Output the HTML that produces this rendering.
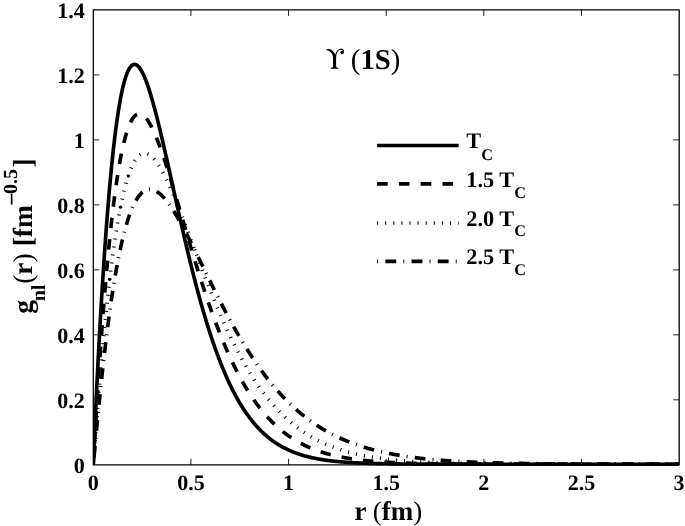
<!DOCTYPE html>
<html><head><meta charset="utf-8"><style>
html,body{margin:0;padding:0;background:#fff;}
svg{display:block;will-change:transform;}
text{font-family:"Liberation Serif",serif;font-weight:bold;fill:#000;text-rendering:geometricPrecision;}
.tk{font-size:22px;}
.lg{font-size:22.3px;}
.n{font-weight:normal;}
</style></head><body>
<svg width="685" height="526" viewBox="0 0 685 526">
<rect width="685" height="526" fill="#fff"/>
<clipPath id="clip"><rect x="93.3" y="9.95" width="585.90" height="456.85"/></clipPath>
<g clip-path="url(#clip)">
<path d="M93.30,464.20 L93.31,463.98 L93.32,463.56 L93.34,463.02 L93.36,462.38 L93.39,461.65 L93.42,460.85 L93.46,459.97 L93.49,459.02 L93.53,458.01 L93.58,456.94 L93.62,455.82 L93.67,454.64 L93.72,453.41 L93.77,452.14 L93.83,450.82 L93.89,449.45 L93.95,448.04 L94.01,446.59 L94.07,445.09 L94.14,443.56 L94.21,441.99 L94.28,440.38 L94.35,438.74 L94.42,437.06 L94.50,435.35 L94.58,433.61 L94.65,431.83 L94.74,430.02 L94.82,428.18 L94.90,426.32 L94.99,424.42 L95.08,422.49 L95.17,420.54 L95.26,418.56 L95.35,416.56 L95.45,414.53 L95.54,412.47 L95.64,410.39 L95.74,408.29 L95.84,406.16 L95.94,404.01 L96.05,401.84 L96.15,399.65 L96.26,397.44 L96.37,395.21 L96.48,392.96 L96.59,390.69 L96.70,388.40 L96.82,386.10 L96.93,383.77 L97.05,381.43 L97.17,379.08 L97.29,376.71 L97.41,374.32 L97.53,371.92 L97.65,369.50 L97.78,367.07 L97.90,364.63 L98.03,362.18 L98.16,359.71 L98.29,357.23 L98.42,354.74 L98.56,352.24 L98.69,349.73 L98.82,347.21 L98.96,344.68 L99.10,342.14 L99.24,339.59 L99.38,337.03 L99.52,334.47 L99.66,331.90 L99.81,329.32 L99.95,326.74 L100.10,324.15 L100.25,321.56 L100.39,318.96 L100.54,316.35 L100.70,313.75 L100.85,311.14 L101.00,308.52 L101.16,305.91 L101.31,303.29 L101.47,300.67 L101.63,298.05 L101.79,295.42 L101.95,292.80 L102.11,290.18 L102.27,287.55 L102.43,284.93 L102.60,282.31 L102.76,279.69 L102.93,277.07 L103.10,274.46 L103.27,271.84 L103.44,269.23 L103.61,266.63 L103.78,264.02 L103.96,261.42 L104.13,258.83 L104.31,256.24 L104.48,253.66 L104.66,251.08 L104.84,248.51 L105.02,245.95 L105.20,243.39 L105.38,240.84 L105.56,238.29 L105.75,235.76 L105.93,233.23 L106.12,230.72 L106.31,228.21 L106.49,225.71 L106.68,223.22 L106.87,220.74 L107.06,218.27 L107.26,215.81 L107.45,213.36 L107.64,210.93 L107.84,208.50 L108.03,206.09 L108.23,203.69 L108.43,201.31 L108.63,198.93 L108.83,196.57 L109.03,194.22 L109.23,191.89 L109.43,189.57 L109.64,187.27 L109.84,184.98 L110.05,182.71 L110.25,180.45 L110.46,178.20 L110.67,175.98 L110.88,173.77 L111.09,171.57 L111.30,169.40 L111.51,167.24 L111.73,165.09 L111.94,162.97 L112.16,160.86 L112.37,158.77 L112.59,156.70 L112.81,154.65 L113.03,152.61 L113.25,150.60 L113.47,148.60 L113.69,146.63 L113.91,144.67 L114.13,142.74 L114.36,140.82 L114.58,138.92 L114.81,137.05 L115.03,135.20 L115.26,133.36 L115.49,131.55 L115.72,129.76 L115.95,127.99 L116.18,126.24 L116.41,124.52 L116.65,122.82 L116.88,121.14 L117.12,119.48 L117.35,117.84 L117.59,116.23 L117.83,114.64 L118.06,113.07 L118.30,111.53 L118.54,110.01 L118.78,108.51 L119.03,107.04 L119.27,105.59 L119.51,104.16 L119.76,102.76 L120.00,101.38 L120.25,100.03 L120.49,98.70 L120.74,97.39 L120.99,96.11 L121.24,94.86 L121.49,93.63 L121.74,92.42 L121.99,91.24 L122.24,90.08 L122.50,88.95 L122.75,87.85 L123.01,86.77 L123.26,85.71 L123.52,84.68 L123.78,83.68 L124.04,82.70 L124.30,81.74 L124.56,80.81 L124.82,79.91 L125.08,79.03 L125.34,78.18 L125.60,77.36 L125.87,76.55 L126.13,75.78 L126.40,75.03 L126.67,74.31 L126.93,73.61 L127.20,72.94 L127.47,72.29 L127.74,71.67 L128.01,71.07 L128.28,70.50 L128.55,69.96 L128.83,69.44 L129.10,68.95 L129.37,68.48 L129.65,68.04 L129.93,67.62 L130.20,67.23 L130.48,66.87 L130.76,66.53 L131.04,66.21 L131.32,65.92 L131.60,65.66 L131.88,65.42 L132.16,65.21 L132.44,65.02 L132.73,64.85 L133.01,64.71 L133.30,64.60 L133.58,64.51 L133.87,64.44 L134.16,64.40 L134.45,64.39 L134.74,64.39 L135.03,64.43 L135.32,64.48 L135.61,64.56 L135.90,64.67 L136.19,64.80 L136.49,64.95 L136.78,65.12 L137.08,65.32 L137.37,65.55 L137.67,65.79 L137.97,66.06 L138.26,66.35 L138.56,66.67 L138.86,67.00 L139.16,67.36 L139.46,67.74 L139.77,68.15 L140.07,68.58 L140.37,69.02 L140.68,69.49 L140.98,69.99 L141.29,70.50 L141.59,71.03 L141.90,71.59 L142.21,72.17 L142.52,72.77 L142.83,73.38 L143.14,74.02 L143.45,74.68 L143.76,75.36 L144.07,76.06 L144.38,76.78 L144.70,77.52 L145.01,78.28 L145.33,79.06 L145.64,79.86 L145.96,80.68 L146.27,81.51 L146.59,82.36 L146.91,83.24 L147.23,84.13 L147.55,85.04 L147.87,85.96 L148.19,86.91 L148.51,87.87 L148.84,88.85 L149.16,89.84 L149.48,90.85 L149.81,91.88 L150.13,92.93 L150.46,93.99 L150.79,95.07 L151.12,96.16 L151.44,97.27 L151.77,98.40 L152.10,99.54 L152.43,100.69 L152.76,101.86 L153.10,103.05 L153.43,104.25 L153.76,105.46 L154.10,106.69 L154.43,107.93 L154.77,109.18 L155.10,110.45 L155.44,111.73 L155.78,113.02 L156.11,114.33 L156.45,115.65 L156.79,116.98 L157.13,118.32 L157.47,119.68 L157.81,121.04 L158.16,122.42 L158.50,123.81 L158.84,125.21 L159.19,126.62 L159.53,128.04 L159.88,129.47 L160.22,130.91 L160.57,132.37 L160.92,133.83 L161.27,135.30 L161.62,136.78 L161.96,138.27 L162.31,139.76 L162.67,141.27 L163.02,142.79 L163.37,144.31 L163.72,145.84 L164.08,147.38 L164.43,148.93 L164.79,150.48 L165.14,152.04 L165.50,153.61 L165.85,155.18 L166.21,156.76 L166.57,158.35 L166.93,159.94 L167.29,161.54 L167.65,163.15 L168.01,164.76 L168.37,166.37 L168.73,168.00 L169.09,169.62 L169.46,171.25 L169.82,172.89 L170.19,174.53 L170.55,176.17 L170.92,177.82 L171.29,179.47 L171.65,181.12 L172.02,182.78 L172.39,184.44 L172.76,186.11 L173.13,187.77 L173.50,189.44 L173.87,191.11 L174.24,192.79 L174.61,194.46 L174.99,196.14 L175.36,197.82 L175.74,199.50 L176.11,201.18 L176.49,202.87 L176.86,204.55 L177.24,206.24 L177.62,207.92 L178.00,209.61 L178.37,211.29 L178.75,212.98 L179.13,214.67 L179.51,216.35 L179.90,218.04 L180.28,219.72 L180.66,221.41 L181.04,223.09 L181.43,224.78 L181.81,226.46 L182.20,228.14 L182.58,229.82 L182.97,231.49 L183.36,233.17 L183.74,234.84 L184.13,236.51 L184.52,238.18 L184.91,239.85 L185.30,241.51 L185.69,243.17 L186.08,244.83 L186.48,246.49 L186.87,248.14 L187.26,249.79 L187.65,251.44 L188.05,253.08 L188.44,254.72 L188.84,256.36 L189.24,257.99 L189.63,259.62 L190.03,261.24 L190.43,262.86 L190.83,264.48 L191.23,266.09 L191.63,267.69 L192.03,269.30 L192.43,270.89 L192.83,272.49 L193.23,274.07 L193.64,275.66 L194.04,277.23 L194.44,278.81 L194.85,280.37 L195.25,281.93 L195.66,283.49 L196.07,285.04 L196.47,286.58 L196.88,288.12 L197.29,289.66 L197.70,291.18 L198.11,292.70 L198.52,294.22 L198.93,295.73 L199.34,297.23 L199.76,298.73 L200.17,300.22 L200.58,301.70 L200.99,303.18 L201.41,304.64 L201.82,306.11 L202.24,307.56 L202.66,309.01 L203.07,310.46 L203.49,311.89 L203.91,313.32 L204.33,314.74 L204.75,316.16 L205.17,317.56 L205.59,318.96 L206.01,320.35 L206.43,321.74 L206.85,323.12 L207.28,324.49 L207.70,325.85 L208.12,327.20 L208.55,328.55 L208.97,329.89 L209.40,331.22 L209.82,332.55 L210.25,333.87 L210.68,335.17 L211.11,336.47 L211.54,337.77 L211.96,339.05 L212.39,340.33 L212.83,341.60 L213.26,342.86 L213.69,344.11 L214.12,345.36 L214.55,346.60 L214.99,347.83 L215.42,349.05 L215.85,350.26 L216.29,351.47 L216.73,352.66 L217.16,353.85 L217.60,355.03 L218.04,356.20 L218.47,357.37 L218.91,358.52 L219.35,359.67 L219.79,360.81 L220.23,361.94 L220.67,363.07 L221.11,364.18 L221.56,365.29 L222.00,366.39 L222.44,367.48 L222.88,368.56 L223.33,369.63 L223.77,370.70 L224.22,371.75 L224.66,372.80 L225.11,373.84 L225.56,374.88 L226.01,375.90 L226.45,376.92 L226.90,377.93 L227.35,378.92 L227.80,379.92 L228.25,380.90 L228.70,381.88 L229.16,382.84 L229.61,383.80 L230.06,384.75 L230.51,385.70 L230.97,386.63 L231.42,387.56 L231.88,388.48 L232.33,389.39 L232.79,390.29 L233.25,391.19 L233.70,392.07 L234.16,392.95 L234.62,393.82 L235.08,394.69 L235.54,395.54 L236.00,396.39 L236.46,397.23 L236.92,398.06 L237.38,398.89 L237.84,399.70 L238.31,400.51 L238.77,401.32 L239.23,402.11 L239.70,402.90 L240.16,403.67 L240.63,404.45 L241.09,405.21 L241.56,405.97 L242.03,406.72 L242.50,407.46 L242.96,408.19 L243.43,408.92 L243.90,409.64 L244.37,410.35 L244.84,411.06 L245.31,411.76 L245.79,412.45 L246.26,413.13 L246.73,413.81 L247.20,414.48 L247.68,415.14 L248.15,415.80 L248.63,416.45 L249.10,417.09 L249.58,417.73 L250.06,418.36 L250.53,418.98 L251.01,419.59 L251.49,420.20 L251.97,420.80 L252.45,421.40 L252.93,421.99 L253.41,422.57 L253.89,423.15 L254.37,423.72 L254.85,424.28 L255.33,424.84 L255.82,425.39 L256.30,425.94 L256.78,426.48 L257.27,427.01 L257.75,427.54 L258.24,428.06 L258.73,428.57 L259.21,429.08 L259.70,429.58 L260.19,430.08 L260.68,430.57 L261.17,431.06 L261.66,431.54 L262.15,432.01 L262.64,432.48 L263.13,432.94 L263.62,433.40 L264.11,433.85 L264.60,434.30 L265.10,434.74 L265.59,435.17 L266.08,435.60 L266.58,436.03 L267.07,436.45 L267.57,436.86 L268.07,437.27 L268.56,437.68 L269.06,438.08 L269.56,438.47 L270.06,438.86 L270.56,439.24 L271.06,439.62 L271.56,440.00 L272.06,440.37 L272.56,440.73 L273.06,441.09 L273.56,441.45 L274.07,441.80 L274.57,442.15 L275.07,442.49 L275.58,442.83 L276.08,443.16 L276.59,443.49 L277.09,443.82 L277.60,444.14 L278.11,444.45 L278.61,444.76 L279.12,445.07 L279.63,445.37 L280.14,445.67 L280.65,445.97 L281.16,446.26 L281.67,446.55 L282.18,446.83 L282.69,447.11 L283.20,447.39 L283.72,447.66 L284.23,447.93 L284.74,448.19 L285.26,448.45 L285.77,448.71 L286.29,448.96 L286.80,449.21 L287.32,449.46 L287.84,449.70 L288.35,449.94 L288.87,450.18 L289.39,450.41 L289.91,450.64 L290.43,450.87 L290.95,451.09 L291.47,451.31 L291.99,451.53 L292.51,451.74 L293.03,451.95 L293.55,452.16 L294.08,452.36 L294.60,452.56 L295.13,452.76 L295.65,452.95 L296.17,453.15 L296.70,453.34 L297.23,453.52 L297.75,453.71 L298.28,453.89 L298.81,454.07 L299.34,454.24 L299.86,454.41 L300.39,454.58 L300.92,454.75 L301.45,454.92 L301.98,455.08 L302.51,455.24 L303.05,455.40 L303.58,455.55 L304.11,455.70 L304.64,455.86 L305.18,456.00 L305.71,456.15 L306.25,456.29 L306.78,456.43 L307.32,456.57 L307.85,456.71 L308.39,456.84 L308.93,456.98 L309.46,457.11 L310.00,457.24 L310.54,457.36 L311.08,457.49 L311.62,457.61 L312.16,457.73 L312.70,457.85 L313.24,457.96 L313.78,458.08 L314.33,458.19 L314.87,458.30 L315.41,458.41 L315.95,458.52 L316.50,458.62 L317.04,458.73 L317.59,458.83 L318.13,458.93 L318.68,459.03 L319.23,459.12 L319.77,459.22 L320.32,459.31 L320.87,459.40 L321.42,459.49 L321.97,459.58 L322.52,459.67 L323.07,459.76 L323.62,459.84 L324.17,459.92 L324.72,460.01 L325.27,460.09 L325.83,460.17 L326.38,460.24 L326.93,460.32 L327.49,460.39 L328.04,460.47 L328.60,460.54 L329.15,460.61 L329.71,460.68 L330.26,460.75 L330.82,460.82 L331.38,460.88 L331.94,460.95 L332.49,461.01 L333.05,461.07 L333.61,461.14 L334.17,461.20 L334.73,461.26 L335.29,461.31 L335.86,461.37 L336.42,461.43 L336.98,461.48 L337.54,461.54 L338.11,461.59 L338.67,461.64 L339.23,461.69 L339.80,461.74 L340.36,461.79 L340.93,461.84 L341.50,461.89 L342.06,461.94 L342.63,461.98 L343.20,462.03 L343.77,462.07 L344.33,462.12 L344.90,462.16 L345.47,462.20 L346.04,462.24 L346.61,462.28 L347.19,462.32 L347.76,462.36 L348.33,462.40 L348.90,462.44 L349.47,462.47 L350.05,462.51 L350.62,462.54 L351.20,462.58 L351.77,462.61 L352.35,462.65 L352.92,462.68 L353.50,462.71 L354.08,462.74 L354.65,462.77 L355.23,462.80 L355.81,462.83 L356.39,462.86 L356.97,462.89 L357.55,462.92 L358.13,462.94 L358.71,462.97 L359.29,463.00 L359.87,463.02 L360.45,463.05 L361.04,463.07 L361.62,463.10 L362.20,463.12 L362.79,463.14 L363.37,463.17 L363.96,463.19 L364.54,463.21 L365.13,463.23 L365.71,463.25 L366.30,463.28 L366.89,463.30 L367.48,463.32 L368.06,463.33 L368.65,463.35 L369.24,463.37 L369.83,463.39 L370.42,463.41 L371.01,463.43 L371.60,463.44 L372.19,463.46 L372.79,463.48 L373.38,463.49 L373.97,463.51 L374.57,463.52 L375.16,463.54 L375.75,463.55 L376.35,463.57 L376.94,463.58 L377.54,463.60 L378.14,463.61 L378.73,463.62 L379.33,463.64 L379.93,463.65 L380.53,463.66 L381.12,463.67 L381.72,463.69 L382.32,463.70 L382.92,463.71 L383.52,463.72 L384.12,463.73 L384.73,463.74 L385.33,463.75 L385.93,463.76 L386.53,463.77 L387.14,463.78 L387.74,463.79 L388.34,463.80 L388.95,463.81 L389.55,463.82 L390.16,463.83 L390.77,463.84 L391.37,463.85 L391.98,463.86 L392.59,463.86 L393.20,463.87 L393.80,463.88 L394.41,463.89 L395.02,463.89 L395.63,463.90 L396.24,463.91 L396.85,463.92 L397.46,463.92 L398.08,463.93 L398.69,463.93 L399.30,463.94 L399.91,463.95 L400.53,463.95 L401.14,463.96 L401.75,463.97 L402.37,463.97 L402.98,463.98 L403.60,463.98 L404.22,463.99 L404.83,463.99 L405.45,464.00 L406.07,464.00 L406.69,464.01 L407.30,464.01 L407.92,464.02 L408.54,464.02 L409.16,464.03 L409.78,464.03 L410.40,464.03 L411.02,464.04 L411.65,464.04 L412.27,464.05 L412.89,464.05 L413.51,464.05 L414.14,464.06 L414.76,464.06 L415.39,464.06 L416.01,464.07 L416.64,464.07 L417.26,464.07 L417.89,464.08 L418.52,464.08 L419.14,464.08 L419.77,464.09 L420.40,464.09 L421.03,464.09 L421.66,464.09 L422.29,464.10 L422.91,464.10 L423.55,464.10 L424.18,464.10 L424.81,464.11 L425.44,464.11 L426.07,464.11 L426.70,464.11 L427.34,464.12 L427.97,464.12 L428.60,464.12 L429.24,464.12 L429.87,464.12 L430.51,464.13 L431.14,464.13 L431.78,464.13 L432.42,464.13 L433.05,464.13 L433.69,464.14 L434.33,464.14 L434.97,464.14 L435.61,464.14 L436.25,464.14 L436.89,464.14 L437.53,464.14 L438.17,464.15 L438.81,464.15 L439.45,464.15 L440.09,464.15 L440.73,464.15 L441.38,464.15 L442.02,464.15 L442.66,464.16 L443.31,464.16 L443.95,464.16 L444.60,464.16 L445.24,464.16 L445.89,464.16 L446.54,464.16 L447.18,464.16 L447.83,464.16 L448.48,464.17 L449.13,464.17 L449.77,464.17 L450.42,464.17 L451.07,464.17 L451.72,464.17 L452.37,464.17 L453.02,464.17 L453.68,464.17 L454.33,464.17 L454.98,464.17 L455.63,464.17 L456.29,464.17 L456.94,464.18 L457.59,464.18 L458.25,464.18 L458.90,464.18 L459.56,464.18 L460.21,464.18 L460.87,464.18 L461.53,464.18 L462.18,464.18 L462.84,464.18 L463.50,464.18 L464.16,464.18 L464.82,464.18 L465.47,464.18 L466.13,464.18 L466.79,464.18 L467.45,464.18 L468.12,464.18 L468.78,464.19 L469.44,464.19 L470.10,464.19 L470.76,464.19 L471.43,464.19 L472.09,464.19 L472.75,464.19 L473.42,464.19 L474.08,464.19 L474.75,464.19 L475.42,464.19 L476.08,464.19 L476.75,464.19 L477.42,464.19 L478.08,464.19 L478.75,464.19 L479.42,464.19 L480.09,464.19 L480.76,464.19 L481.43,464.19 L482.10,464.19 L482.77,464.19 L483.44,464.19 L484.11,464.19 L484.78,464.19 L485.45,464.19 L486.13,464.19 L486.80,464.19 L487.47,464.19 L488.15,464.19 L488.82,464.19 L489.50,464.19 L490.17,464.19 L490.85,464.19 L491.52,464.19 L492.20,464.19 L492.88,464.19 L493.56,464.19 L494.23,464.20 L494.91,464.20 L495.59,464.20 L496.27,464.20 L496.95,464.20 L497.63,464.20 L498.31,464.20 L498.99,464.20 L499.67,464.20 L500.35,464.20 L501.04,464.20 L501.72,464.20 L502.40,464.20 L503.08,464.20 L503.77,464.20 L504.45,464.20 L505.14,464.20 L505.82,464.20 L506.51,464.20 L507.19,464.20 L507.88,464.20 L508.57,464.20 L509.26,464.20 L509.94,464.20 L510.63,464.20 L511.32,464.20 L512.01,464.20 L512.70,464.20 L513.39,464.20 L514.08,464.20 L514.77,464.20 L515.46,464.20 L516.15,464.20 L516.84,464.20 L517.54,464.20 L518.23,464.20 L518.92,464.20 L519.62,464.20 L520.31,464.20 L521.00,464.20 L521.70,464.20 L522.40,464.20 L523.09,464.20 L523.79,464.20 L524.48,464.20 L525.18,464.20 L525.88,464.20 L526.58,464.20 L527.27,464.20 L527.97,464.20 L528.67,464.20 L529.37,464.20 L530.07,464.20 L530.77,464.20 L531.47,464.20 L532.17,464.20 L532.88,464.20 L533.58,464.20 L534.28,464.20 L534.98,464.20 L535.69,464.20 L536.39,464.20 L537.10,464.20 L537.80,464.20 L538.51,464.20 L539.21,464.20 L539.92,464.20 L540.62,464.20 L541.33,464.20 L542.04,464.20 L542.74,464.20 L543.45,464.20 L544.16,464.20 L544.87,464.20 L545.58,464.20 L546.29,464.20 L547.00,464.20 L547.71,464.20 L548.42,464.20 L549.13,464.20 L549.84,464.20 L550.56,464.20 L551.27,464.20 L551.98,464.20 L552.69,464.20 L553.41,464.20 L554.12,464.20 L554.84,464.20 L555.55,464.20 L556.27,464.20 L556.98,464.20 L557.70,464.20 L558.42,464.20 L559.13,464.20 L559.85,464.20 L560.57,464.20 L561.29,464.20 L562.01,464.20 L562.73,464.20 L563.45,464.20 L564.17,464.20 L564.89,464.20 L565.61,464.20 L566.33,464.20 L567.05,464.20 L567.77,464.20 L568.49,464.20 L569.22,464.20 L569.94,464.20 L570.66,464.20 L571.39,464.20 L572.11,464.20 L572.84,464.20 L573.56,464.20 L574.29,464.20 L575.02,464.20 L575.74,464.20 L576.47,464.20 L577.20,464.20 L577.92,464.20 L578.65,464.20 L579.38,464.20 L580.11,464.20 L580.84,464.20 L581.57,464.20 L582.30,464.20 L583.03,464.20 L583.76,464.20 L584.49,464.20 L585.23,464.20 L585.96,464.20 L586.69,464.20 L587.42,464.20 L588.16,464.20 L588.89,464.20 L589.63,464.20 L590.36,464.20 L591.10,464.20 L591.83,464.20 L592.57,464.20 L593.30,464.20 L594.04,464.20 L594.78,464.20 L595.52,464.20 L596.25,464.20 L596.99,464.20 L597.73,464.20 L598.47,464.20 L599.21,464.20 L599.95,464.20 L600.69,464.20 L601.43,464.20 L602.17,464.20 L602.92,464.20 L603.66,464.20 L604.40,464.20 L605.14,464.20 L605.89,464.20 L606.63,464.20 L607.37,464.20 L608.12,464.20 L608.86,464.20 L609.61,464.20 L610.35,464.20 L611.10,464.20 L611.85,464.20 L612.59,464.20 L613.34,464.20 L614.09,464.20 L614.84,464.20 L615.59,464.20 L616.34,464.20 L617.08,464.20 L617.83,464.20 L618.58,464.20 L619.34,464.20 L620.09,464.20 L620.84,464.20 L621.59,464.20 L622.34,464.20 L623.09,464.20 L623.85,464.20 L624.60,464.20 L625.35,464.20 L626.11,464.20 L626.86,464.20 L627.62,464.20 L628.37,464.20 L629.13,464.20 L629.89,464.20 L630.64,464.20 L631.40,464.20 L632.16,464.20 L632.92,464.20 L633.67,464.20 L634.43,464.20 L635.19,464.20 L635.95,464.20 L636.71,464.20 L637.47,464.20 L638.23,464.20 L638.99,464.20 L639.75,464.20 L640.52,464.20 L641.28,464.20 L642.04,464.20 L642.80,464.20 L643.57,464.20 L644.33,464.20 L645.09,464.20 L645.86,464.20 L646.62,464.20 L647.39,464.20 L648.16,464.20 L648.92,464.20 L649.69,464.20 L650.45,464.20 L651.22,464.20 L651.99,464.20 L652.76,464.20 L653.53,464.20 L654.30,464.20 L655.06,464.20 L655.83,464.20 L656.60,464.20 L657.38,464.20 L658.15,464.20 L658.92,464.20 L659.69,464.20 L660.46,464.20 L661.23,464.20 L662.01,464.20 L662.78,464.20 L663.55,464.20 L664.33,464.20 L665.10,464.20 L665.88,464.20 L666.65,464.20 L667.43,464.20 L668.20,464.20 L668.98,464.20 L669.76,464.20 L670.53,464.20 L671.31,464.20 L672.09,464.20 L672.87,464.20 L673.65,464.20 L674.43,464.20 L675.21,464.20 L675.99,464.20 L676.77,464.20 L677.55,464.20 L678.33,464.20 L679.11,464.20" fill="none" stroke="#000" stroke-width="3.65" stroke-linejoin="round" />
<path d="M93.30,464.20 L93.31,464.08 L93.32,463.82 L93.34,463.48 L93.36,463.06 L93.39,462.58 L93.42,462.04 L93.46,461.43 L93.49,460.78 L93.53,460.08 L93.58,459.32 L93.62,458.53 L93.67,457.69 L93.72,456.80 L93.77,455.88 L93.83,454.92 L93.89,453.92 L93.95,452.88 L94.01,451.81 L94.07,450.70 L94.14,449.56 L94.21,448.39 L94.28,447.19 L94.35,445.95 L94.42,444.68 L94.50,443.39 L94.58,442.07 L94.65,440.71 L94.74,439.33 L94.82,437.93 L94.90,436.49 L94.99,435.03 L95.08,433.55 L95.17,432.04 L95.26,430.51 L95.35,428.95 L95.45,427.37 L95.54,425.77 L95.64,424.15 L95.74,422.51 L95.84,420.84 L95.94,419.15 L96.05,417.45 L96.15,415.72 L96.26,413.98 L96.37,412.22 L96.48,410.44 L96.59,408.64 L96.70,406.82 L96.82,404.99 L96.93,403.14 L97.05,401.28 L97.17,399.40 L97.29,397.50 L97.41,395.59 L97.53,393.67 L97.65,391.73 L97.78,389.78 L97.90,387.81 L98.03,385.84 L98.16,383.85 L98.29,381.85 L98.42,379.84 L98.56,377.81 L98.69,375.78 L98.82,373.74 L98.96,371.68 L99.10,369.62 L99.24,367.55 L99.38,365.46 L99.52,363.37 L99.66,361.28 L99.81,359.17 L99.95,357.06 L100.10,354.94 L100.25,352.81 L100.39,350.68 L100.54,348.54 L100.70,346.40 L100.85,344.25 L101.00,342.10 L101.16,339.94 L101.31,337.78 L101.47,335.61 L101.63,333.45 L101.79,331.27 L101.95,329.10 L102.11,326.92 L102.27,324.74 L102.43,322.56 L102.60,320.38 L102.76,318.20 L102.93,316.02 L103.10,313.83 L103.27,311.65 L103.44,309.47 L103.61,307.28 L103.78,305.10 L103.96,302.92 L104.13,300.74 L104.31,298.56 L104.48,296.39 L104.66,294.22 L104.84,292.05 L105.02,289.88 L105.20,287.72 L105.38,285.56 L105.56,283.40 L105.75,281.25 L105.93,279.10 L106.12,276.96 L106.31,274.82 L106.49,272.69 L106.68,270.57 L106.87,268.45 L107.06,266.33 L107.26,264.23 L107.45,262.13 L107.64,260.03 L107.84,257.95 L108.03,255.87 L108.23,253.80 L108.43,251.74 L108.63,249.68 L108.83,247.64 L109.03,245.60 L109.23,243.58 L109.43,241.56 L109.64,239.55 L109.84,237.55 L110.05,235.56 L110.25,233.59 L110.46,231.62 L110.67,229.66 L110.88,227.72 L111.09,225.78 L111.30,223.86 L111.51,221.95 L111.73,220.05 L111.94,218.16 L112.16,216.29 L112.37,214.43 L112.59,212.58 L112.81,210.74 L113.03,208.92 L113.25,207.11 L113.47,205.31 L113.69,203.53 L113.91,201.76 L114.13,200.00 L114.36,198.26 L114.58,196.54 L114.81,194.83 L115.03,193.13 L115.26,191.45 L115.49,189.78 L115.72,188.13 L115.95,186.49 L116.18,184.87 L116.41,183.27 L116.65,181.68 L116.88,180.11 L117.12,178.55 L117.35,177.01 L117.59,175.49 L117.83,173.98 L118.06,172.49 L118.30,171.02 L118.54,169.56 L118.78,168.12 L119.03,166.70 L119.27,165.30 L119.51,163.91 L119.76,162.54 L120.00,161.19 L120.25,159.86 L120.49,158.54 L120.74,157.24 L120.99,155.96 L121.24,154.70 L121.49,153.46 L121.74,152.23 L121.99,151.03 L122.24,149.84 L122.50,148.67 L122.75,147.52 L123.01,146.39 L123.26,145.27 L123.52,144.18 L123.78,143.11 L124.04,142.05 L124.30,141.01 L124.56,140.00 L124.82,139.00 L125.08,138.02 L125.34,137.06 L125.60,136.12 L125.87,135.20 L126.13,134.29 L126.40,133.41 L126.67,132.55 L126.93,131.71 L127.20,130.88 L127.47,130.08 L127.74,129.29 L128.01,128.53 L128.28,127.78 L128.55,127.06 L128.83,126.35 L129.10,125.67 L129.37,125.00 L129.65,124.35 L129.93,123.73 L130.20,123.12 L130.48,122.53 L130.76,121.96 L131.04,121.41 L131.32,120.88 L131.60,120.38 L131.88,119.89 L132.16,119.41 L132.44,118.96 L132.73,118.53 L133.01,118.12 L133.30,117.73 L133.58,117.36 L133.87,117.00 L134.16,116.67 L134.45,116.35 L134.74,116.06 L135.03,115.78 L135.32,115.52 L135.61,115.29 L135.90,115.07 L136.19,114.87 L136.49,114.69 L136.78,114.52 L137.08,114.38 L137.37,114.26 L137.67,114.15 L137.97,114.06 L138.26,113.99 L138.56,113.94 L138.86,113.91 L139.16,113.90 L139.46,113.90 L139.77,113.93 L140.07,113.97 L140.37,114.03 L140.68,114.11 L140.98,114.20 L141.29,114.31 L141.59,114.44 L141.90,114.59 L142.21,114.76 L142.52,114.94 L142.83,115.14 L143.14,115.36 L143.45,115.59 L143.76,115.85 L144.07,116.11 L144.38,116.40 L144.70,116.70 L145.01,117.02 L145.33,117.36 L145.64,117.71 L145.96,118.08 L146.27,118.46 L146.59,118.86 L146.91,119.28 L147.23,119.71 L147.55,120.16 L147.87,120.62 L148.19,121.10 L148.51,121.59 L148.84,122.10 L149.16,122.62 L149.48,123.16 L149.81,123.72 L150.13,124.29 L150.46,124.87 L150.79,125.47 L151.12,126.08 L151.44,126.70 L151.77,127.34 L152.10,128.00 L152.43,128.67 L152.76,129.35 L153.10,130.04 L153.43,130.75 L153.76,131.47 L154.10,132.21 L154.43,132.95 L154.77,133.72 L155.10,134.49 L155.44,135.27 L155.78,136.07 L156.11,136.88 L156.45,137.71 L156.79,138.54 L157.13,139.39 L157.47,140.24 L157.81,141.11 L158.16,141.99 L158.50,142.89 L158.84,143.79 L159.19,144.70 L159.53,145.63 L159.88,146.56 L160.22,147.51 L160.57,148.47 L160.92,149.43 L161.27,150.41 L161.62,151.40 L161.96,152.40 L162.31,153.40 L162.67,154.42 L163.02,155.44 L163.37,156.48 L163.72,157.52 L164.08,158.57 L164.43,159.64 L164.79,160.71 L165.14,161.78 L165.50,162.87 L165.85,163.97 L166.21,165.07 L166.57,166.18 L166.93,167.30 L167.29,168.42 L167.65,169.56 L168.01,170.70 L168.37,171.85 L168.73,173.00 L169.09,174.16 L169.46,175.33 L169.82,176.51 L170.19,177.69 L170.55,178.88 L170.92,180.07 L171.29,181.27 L171.65,182.48 L172.02,183.69 L172.39,184.91 L172.76,186.13 L173.13,187.36 L173.50,188.59 L173.87,189.83 L174.24,191.07 L174.61,192.32 L174.99,193.57 L175.36,194.83 L175.74,196.09 L176.11,197.36 L176.49,198.63 L176.86,199.90 L177.24,201.18 L177.62,202.46 L178.00,203.74 L178.37,205.03 L178.75,206.32 L179.13,207.62 L179.51,208.91 L179.90,210.21 L180.28,211.52 L180.66,212.82 L181.04,214.13 L181.43,215.44 L181.81,216.75 L182.20,218.07 L182.58,219.38 L182.97,220.70 L183.36,222.02 L183.74,223.34 L184.13,224.67 L184.52,225.99 L184.91,227.32 L185.30,228.64 L185.69,229.97 L186.08,231.30 L186.48,232.63 L186.87,233.96 L187.26,235.29 L187.65,236.63 L188.05,237.96 L188.44,239.29 L188.84,240.62 L189.24,241.95 L189.63,243.29 L190.03,244.62 L190.43,245.95 L190.83,247.28 L191.23,248.61 L191.63,249.94 L192.03,251.27 L192.43,252.60 L192.83,253.93 L193.23,255.25 L193.64,256.58 L194.04,257.90 L194.44,259.23 L194.85,260.55 L195.25,261.87 L195.66,263.19 L196.07,264.50 L196.47,265.82 L196.88,267.13 L197.29,268.44 L197.70,269.75 L198.11,271.06 L198.52,272.37 L198.93,273.67 L199.34,274.97 L199.76,276.27 L200.17,277.56 L200.58,278.85 L200.99,280.14 L201.41,281.43 L201.82,282.72 L202.24,284.00 L202.66,285.28 L203.07,286.55 L203.49,287.82 L203.91,289.09 L204.33,290.36 L204.75,291.62 L205.17,292.88 L205.59,294.14 L206.01,295.39 L206.43,296.64 L206.85,297.88 L207.28,299.12 L207.70,300.36 L208.12,301.59 L208.55,302.82 L208.97,304.05 L209.40,305.27 L209.82,306.49 L210.25,307.70 L210.68,308.91 L211.11,310.11 L211.54,311.32 L211.96,312.51 L212.39,313.70 L212.83,314.89 L213.26,316.07 L213.69,317.25 L214.12,318.42 L214.55,319.59 L214.99,320.76 L215.42,321.92 L215.85,323.07 L216.29,324.22 L216.73,325.37 L217.16,326.51 L217.60,327.64 L218.04,328.77 L218.47,329.90 L218.91,331.02 L219.35,332.13 L219.79,333.24 L220.23,334.35 L220.67,335.45 L221.11,336.54 L221.56,337.63 L222.00,338.72 L222.44,339.79 L222.88,340.87 L223.33,341.94 L223.77,343.00 L224.22,344.06 L224.66,345.11 L225.11,346.15 L225.56,347.19 L226.01,348.23 L226.45,349.26 L226.90,350.28 L227.35,351.30 L227.80,352.32 L228.25,353.32 L228.70,354.33 L229.16,355.32 L229.61,356.31 L230.06,357.30 L230.51,358.28 L230.97,359.25 L231.42,360.22 L231.88,361.18 L232.33,362.14 L232.79,363.09 L233.25,364.03 L233.70,364.97 L234.16,365.91 L234.62,366.84 L235.08,367.76 L235.54,368.67 L236.00,369.58 L236.46,370.49 L236.92,371.39 L237.38,372.28 L237.84,373.17 L238.31,374.05 L238.77,374.93 L239.23,375.80 L239.70,376.66 L240.16,377.52 L240.63,378.37 L241.09,379.22 L241.56,380.06 L242.03,380.90 L242.50,381.73 L242.96,382.55 L243.43,383.37 L243.90,384.18 L244.37,384.99 L244.84,385.79 L245.31,386.59 L245.79,387.38 L246.26,388.16 L246.73,388.94 L247.20,389.71 L247.68,390.48 L248.15,391.24 L248.63,391.99 L249.10,392.74 L249.58,393.49 L250.06,394.23 L250.53,394.96 L251.01,395.69 L251.49,396.41 L251.97,397.12 L252.45,397.84 L252.93,398.54 L253.41,399.24 L253.89,399.93 L254.37,400.62 L254.85,401.31 L255.33,401.98 L255.82,402.66 L256.30,403.32 L256.78,403.98 L257.27,404.64 L257.75,405.29 L258.24,405.93 L258.73,406.57 L259.21,407.21 L259.70,407.84 L260.19,408.46 L260.68,409.08 L261.17,409.69 L261.66,410.30 L262.15,410.91 L262.64,411.50 L263.13,412.10 L263.62,412.68 L264.11,413.27 L264.60,413.84 L265.10,414.41 L265.59,414.98 L266.08,415.54 L266.58,416.10 L267.07,416.65 L267.57,417.20 L268.07,417.74 L268.56,418.28 L269.06,418.81 L269.56,419.34 L270.06,419.86 L270.56,420.38 L271.06,420.89 L271.56,421.40 L272.06,421.91 L272.56,422.41 L273.06,422.90 L273.56,423.39 L274.07,423.87 L274.57,424.36 L275.07,424.83 L275.58,425.30 L276.08,425.77 L276.59,426.23 L277.09,426.69 L277.60,427.14 L278.11,427.59 L278.61,428.04 L279.12,428.48 L279.63,428.91 L280.14,429.34 L280.65,429.77 L281.16,430.19 L281.67,430.61 L282.18,431.03 L282.69,431.44 L283.20,431.85 L283.72,432.25 L284.23,432.65 L284.74,433.04 L285.26,433.43 L285.77,433.82 L286.29,434.20 L286.80,434.58 L287.32,434.95 L287.84,435.32 L288.35,435.69 L288.87,436.05 L289.39,436.41 L289.91,436.76 L290.43,437.11 L290.95,437.46 L291.47,437.81 L291.99,438.15 L292.51,438.48 L293.03,438.82 L293.55,439.14 L294.08,439.47 L294.60,439.79 L295.13,440.11 L295.65,440.43 L296.17,440.74 L296.70,441.05 L297.23,441.35 L297.75,441.65 L298.28,441.95 L298.81,442.25 L299.34,442.54 L299.86,442.83 L300.39,443.11 L300.92,443.39 L301.45,443.67 L301.98,443.95 L302.51,444.22 L303.05,444.49 L303.58,444.75 L304.11,445.02 L304.64,445.28 L305.18,445.54 L305.71,445.79 L306.25,446.04 L306.78,446.29 L307.32,446.53 L307.85,446.78 L308.39,447.02 L308.93,447.25 L309.46,447.49 L310.00,447.72 L310.54,447.95 L311.08,448.17 L311.62,448.40 L312.16,448.62 L312.70,448.83 L313.24,449.05 L313.78,449.26 L314.33,449.47 L314.87,449.68 L315.41,449.88 L315.95,450.09 L316.50,450.29 L317.04,450.48 L317.59,450.68 L318.13,450.87 L318.68,451.06 L319.23,451.25 L319.77,451.44 L320.32,451.62 L320.87,451.80 L321.42,451.98 L321.97,452.16 L322.52,452.33 L323.07,452.50 L323.62,452.67 L324.17,452.84 L324.72,453.01 L325.27,453.17 L325.83,453.33 L326.38,453.49 L326.93,453.65 L327.49,453.80 L328.04,453.96 L328.60,454.11 L329.15,454.26 L329.71,454.40 L330.26,454.55 L330.82,454.69 L331.38,454.84 L331.94,454.98 L332.49,455.11 L333.05,455.25 L333.61,455.38 L334.17,455.52 L334.73,455.65 L335.29,455.78 L335.86,455.90 L336.42,456.03 L336.98,456.15 L337.54,456.28 L338.11,456.40 L338.67,456.52 L339.23,456.63 L339.80,456.75 L340.36,456.86 L340.93,456.98 L341.50,457.09 L342.06,457.20 L342.63,457.31 L343.20,457.41 L343.77,457.52 L344.33,457.62 L344.90,457.72 L345.47,457.82 L346.04,457.92 L346.61,458.02 L347.19,458.12 L347.76,458.21 L348.33,458.31 L348.90,458.40 L349.47,458.49 L350.05,458.58 L350.62,458.67 L351.20,458.76 L351.77,458.85 L352.35,458.93 L352.92,459.02 L353.50,459.10 L354.08,459.18 L354.65,459.26 L355.23,459.34 L355.81,459.42 L356.39,459.49 L356.97,459.57 L357.55,459.65 L358.13,459.72 L358.71,459.79 L359.29,459.86 L359.87,459.93 L360.45,460.00 L361.04,460.07 L361.62,460.14 L362.20,460.21 L362.79,460.27 L363.37,460.34 L363.96,460.40 L364.54,460.46 L365.13,460.52 L365.71,460.58 L366.30,460.64 L366.89,460.70 L367.48,460.76 L368.06,460.82 L368.65,460.87 L369.24,460.93 L369.83,460.98 L370.42,461.04 L371.01,461.09 L371.60,461.14 L372.19,461.19 L372.79,461.25 L373.38,461.30 L373.97,461.34 L374.57,461.39 L375.16,461.44 L375.75,461.49 L376.35,461.53 L376.94,461.58 L377.54,461.62 L378.14,461.67 L378.73,461.71 L379.33,461.75 L379.93,461.80 L380.53,461.84 L381.12,461.88 L381.72,461.92 L382.32,461.96 L382.92,462.00 L383.52,462.03 L384.12,462.07 L384.73,462.11 L385.33,462.14 L385.93,462.18 L386.53,462.22 L387.14,462.25 L387.74,462.28 L388.34,462.32 L388.95,462.35 L389.55,462.38 L390.16,462.42 L390.77,462.45 L391.37,462.48 L391.98,462.51 L392.59,462.54 L393.20,462.57 L393.80,462.60 L394.41,462.63 L395.02,462.65 L395.63,462.68 L396.24,462.71 L396.85,462.73 L397.46,462.76 L398.08,462.79 L398.69,462.81 L399.30,462.84 L399.91,462.86 L400.53,462.89 L401.14,462.91 L401.75,462.93 L402.37,462.96 L402.98,462.98 L403.60,463.00 L404.22,463.02 L404.83,463.04 L405.45,463.07 L406.07,463.09 L406.69,463.11 L407.30,463.13 L407.92,463.15 L408.54,463.17 L409.16,463.18 L409.78,463.20 L410.40,463.22 L411.02,463.24 L411.65,463.26 L412.27,463.28 L412.89,463.29 L413.51,463.31 L414.14,463.33 L414.76,463.34 L415.39,463.36 L416.01,463.37 L416.64,463.39 L417.26,463.40 L417.89,463.42 L418.52,463.43 L419.14,463.45 L419.77,463.46 L420.40,463.48 L421.03,463.49 L421.66,463.50 L422.29,463.52 L422.91,463.53 L423.55,463.54 L424.18,463.56 L424.81,463.57 L425.44,463.58 L426.07,463.59 L426.70,463.60 L427.34,463.61 L427.97,463.63 L428.60,463.64 L429.24,463.65 L429.87,463.66 L430.51,463.67 L431.14,463.68 L431.78,463.69 L432.42,463.70 L433.05,463.71 L433.69,463.72 L434.33,463.73 L434.97,463.74 L435.61,463.75 L436.25,463.75 L436.89,463.76 L437.53,463.77 L438.17,463.78 L438.81,463.79 L439.45,463.80 L440.09,463.80 L440.73,463.81 L441.38,463.82 L442.02,463.83 L442.66,463.83 L443.31,463.84 L443.95,463.85 L444.60,463.86 L445.24,463.86 L445.89,463.87 L446.54,463.88 L447.18,463.88 L447.83,463.89 L448.48,463.90 L449.13,463.90 L449.77,463.91 L450.42,463.91 L451.07,463.92 L451.72,463.92 L452.37,463.93 L453.02,463.94 L453.68,463.94 L454.33,463.95 L454.98,463.95 L455.63,463.96 L456.29,463.96 L456.94,463.97 L457.59,463.97 L458.25,463.98 L458.90,463.98 L459.56,463.98 L460.21,463.99 L460.87,463.99 L461.53,464.00 L462.18,464.00 L462.84,464.01 L463.50,464.01 L464.16,464.01 L464.82,464.02 L465.47,464.02 L466.13,464.03 L466.79,464.03 L467.45,464.03 L468.12,464.04 L468.78,464.04 L469.44,464.04 L470.10,464.05 L470.76,464.05 L471.43,464.05 L472.09,464.06 L472.75,464.06 L473.42,464.06 L474.08,464.06 L474.75,464.07 L475.42,464.07 L476.08,464.07 L476.75,464.08 L477.42,464.08 L478.08,464.08 L478.75,464.08 L479.42,464.09 L480.09,464.09 L480.76,464.09 L481.43,464.09 L482.10,464.09 L482.77,464.10 L483.44,464.10 L484.11,464.10 L484.78,464.10 L485.45,464.11 L486.13,464.11 L486.80,464.11 L487.47,464.11 L488.15,464.11 L488.82,464.12 L489.50,464.12 L490.17,464.12 L490.85,464.12 L491.52,464.12 L492.20,464.12 L492.88,464.13 L493.56,464.13 L494.23,464.13 L494.91,464.13 L495.59,464.13 L496.27,464.13 L496.95,464.14 L497.63,464.14 L498.31,464.14 L498.99,464.14 L499.67,464.14 L500.35,464.14 L501.04,464.14 L501.72,464.14 L502.40,464.15 L503.08,464.15 L503.77,464.15 L504.45,464.15 L505.14,464.15 L505.82,464.15 L506.51,464.15 L507.19,464.15 L507.88,464.15 L508.57,464.16 L509.26,464.16 L509.94,464.16 L510.63,464.16 L511.32,464.16 L512.01,464.16 L512.70,464.16 L513.39,464.16 L514.08,464.16 L514.77,464.16 L515.46,464.16 L516.15,464.17 L516.84,464.17 L517.54,464.17 L518.23,464.17 L518.92,464.17 L519.62,464.17 L520.31,464.17 L521.00,464.17 L521.70,464.17 L522.40,464.17 L523.09,464.17 L523.79,464.17 L524.48,464.17 L525.18,464.17 L525.88,464.17 L526.58,464.18 L527.27,464.18 L527.97,464.18 L528.67,464.18 L529.37,464.18 L530.07,464.18 L530.77,464.18 L531.47,464.18 L532.17,464.18 L532.88,464.18 L533.58,464.18 L534.28,464.18 L534.98,464.18 L535.69,464.18 L536.39,464.18 L537.10,464.18 L537.80,464.18 L538.51,464.18 L539.21,464.18 L539.92,464.18 L540.62,464.18 L541.33,464.19 L542.04,464.19 L542.74,464.19 L543.45,464.19 L544.16,464.19 L544.87,464.19 L545.58,464.19 L546.29,464.19 L547.00,464.19 L547.71,464.19 L548.42,464.19 L549.13,464.19 L549.84,464.19 L550.56,464.19 L551.27,464.19 L551.98,464.19 L552.69,464.19 L553.41,464.19 L554.12,464.19 L554.84,464.19 L555.55,464.19 L556.27,464.19 L556.98,464.19 L557.70,464.19 L558.42,464.19 L559.13,464.19 L559.85,464.19 L560.57,464.19 L561.29,464.19 L562.01,464.19 L562.73,464.19 L563.45,464.19 L564.17,464.19 L564.89,464.19 L565.61,464.19 L566.33,464.19 L567.05,464.19 L567.77,464.19 L568.49,464.19 L569.22,464.19 L569.94,464.19 L570.66,464.19 L571.39,464.19 L572.11,464.19 L572.84,464.19 L573.56,464.19 L574.29,464.20 L575.02,464.20 L575.74,464.20 L576.47,464.20 L577.20,464.20 L577.92,464.20 L578.65,464.20 L579.38,464.20 L580.11,464.20 L580.84,464.20 L581.57,464.20 L582.30,464.20 L583.03,464.20 L583.76,464.20 L584.49,464.20 L585.23,464.20 L585.96,464.20 L586.69,464.20 L587.42,464.20 L588.16,464.20 L588.89,464.20 L589.63,464.20 L590.36,464.20 L591.10,464.20 L591.83,464.20 L592.57,464.20 L593.30,464.20 L594.04,464.20 L594.78,464.20 L595.52,464.20 L596.25,464.20 L596.99,464.20 L597.73,464.20 L598.47,464.20 L599.21,464.20 L599.95,464.20 L600.69,464.20 L601.43,464.20 L602.17,464.20 L602.92,464.20 L603.66,464.20 L604.40,464.20 L605.14,464.20 L605.89,464.20 L606.63,464.20 L607.37,464.20 L608.12,464.20 L608.86,464.20 L609.61,464.20 L610.35,464.20 L611.10,464.20 L611.85,464.20 L612.59,464.20 L613.34,464.20 L614.09,464.20 L614.84,464.20 L615.59,464.20 L616.34,464.20 L617.08,464.20 L617.83,464.20 L618.58,464.20 L619.34,464.20 L620.09,464.20 L620.84,464.20 L621.59,464.20 L622.34,464.20 L623.09,464.20 L623.85,464.20 L624.60,464.20 L625.35,464.20 L626.11,464.20 L626.86,464.20 L627.62,464.20 L628.37,464.20 L629.13,464.20 L629.89,464.20 L630.64,464.20 L631.40,464.20 L632.16,464.20 L632.92,464.20 L633.67,464.20 L634.43,464.20 L635.19,464.20 L635.95,464.20 L636.71,464.20 L637.47,464.20 L638.23,464.20 L638.99,464.20 L639.75,464.20 L640.52,464.20 L641.28,464.20 L642.04,464.20 L642.80,464.20 L643.57,464.20 L644.33,464.20 L645.09,464.20 L645.86,464.20 L646.62,464.20 L647.39,464.20 L648.16,464.20 L648.92,464.20 L649.69,464.20 L650.45,464.20 L651.22,464.20 L651.99,464.20 L652.76,464.20 L653.53,464.20 L654.30,464.20 L655.06,464.20 L655.83,464.20 L656.60,464.20 L657.38,464.20 L658.15,464.20 L658.92,464.20 L659.69,464.20 L660.46,464.20 L661.23,464.20 L662.01,464.20 L662.78,464.20 L663.55,464.20 L664.33,464.20 L665.10,464.20 L665.88,464.20 L666.65,464.20 L667.43,464.20 L668.20,464.20 L668.98,464.20 L669.76,464.20 L670.53,464.20 L671.31,464.20 L672.09,464.20 L672.87,464.20 L673.65,464.20 L674.43,464.20 L675.21,464.20 L675.99,464.20 L676.77,464.20 L677.55,464.20 L678.33,464.20 L679.11,464.20" fill="none" stroke="#000" stroke-width="3.65" stroke-linejoin="round" stroke-dasharray="10.489 11.094" stroke-dashoffset="0.674"/>
<path d="M93.30,464.20 L93.31,464.12 L93.32,463.94 L93.34,463.69 L93.36,463.39 L93.39,463.03 L93.42,462.63 L93.46,462.18 L93.49,461.69 L93.53,461.16 L93.58,460.59 L93.62,459.99 L93.67,459.35 L93.72,458.68 L93.77,457.97 L93.83,457.23 L93.89,456.46 L93.95,455.66 L94.01,454.84 L94.07,453.98 L94.14,453.10 L94.21,452.19 L94.28,451.25 L94.35,450.29 L94.42,449.30 L94.50,448.29 L94.58,447.25 L94.65,446.19 L94.74,445.10 L94.82,444.00 L94.90,442.87 L94.99,441.72 L95.08,440.55 L95.17,439.36 L95.26,438.15 L95.35,436.91 L95.45,435.66 L95.54,434.39 L95.64,433.10 L95.74,431.80 L95.84,430.47 L95.94,429.13 L96.05,427.77 L96.15,426.39 L96.26,425.00 L96.37,423.59 L96.48,422.16 L96.59,420.72 L96.70,419.27 L96.82,417.80 L96.93,416.31 L97.05,414.81 L97.17,413.30 L97.29,411.78 L97.41,410.24 L97.53,408.68 L97.65,407.12 L97.78,405.54 L97.90,403.96 L98.03,402.36 L98.16,400.75 L98.29,399.12 L98.42,397.49 L98.56,395.85 L98.69,394.20 L98.82,392.54 L98.96,390.87 L99.10,389.18 L99.24,387.50 L99.38,385.80 L99.52,384.09 L99.66,382.38 L99.81,380.66 L99.95,378.93 L100.10,377.19 L100.25,375.45 L100.39,373.70 L100.54,371.95 L100.70,370.19 L100.85,368.42 L101.00,366.65 L101.16,364.87 L101.31,363.09 L101.47,361.30 L101.63,359.51 L101.79,357.72 L101.95,355.92 L102.11,354.12 L102.27,352.31 L102.43,350.50 L102.60,348.69 L102.76,346.88 L102.93,345.06 L103.10,343.25 L103.27,341.43 L103.44,339.61 L103.61,337.79 L103.78,335.96 L103.96,334.14 L104.13,332.32 L104.31,330.49 L104.48,328.67 L104.66,326.85 L104.84,325.02 L105.02,323.20 L105.20,321.38 L105.38,319.56 L105.56,317.74 L105.75,315.92 L105.93,314.11 L106.12,312.30 L106.31,310.49 L106.49,308.68 L106.68,306.87 L106.87,305.07 L107.06,303.27 L107.26,301.48 L107.45,299.69 L107.64,297.90 L107.84,296.12 L108.03,294.34 L108.23,292.57 L108.43,290.80 L108.63,289.03 L108.83,287.27 L109.03,285.52 L109.23,283.77 L109.43,282.03 L109.64,280.29 L109.84,278.56 L110.05,276.84 L110.25,275.12 L110.46,273.41 L110.67,271.70 L110.88,270.01 L111.09,268.32 L111.30,266.64 L111.51,264.96 L111.73,263.29 L111.94,261.64 L112.16,259.99 L112.37,258.34 L112.59,256.71 L112.81,255.09 L113.03,253.47 L113.25,251.86 L113.47,250.26 L113.69,248.68 L113.91,247.10 L114.13,245.53 L114.36,243.97 L114.58,242.42 L114.81,240.88 L115.03,239.35 L115.26,237.83 L115.49,236.32 L115.72,234.82 L115.95,233.34 L116.18,231.86 L116.41,230.39 L116.65,228.94 L116.88,227.50 L117.12,226.07 L117.35,224.65 L117.59,223.24 L117.83,221.84 L118.06,220.46 L118.30,219.09 L118.54,217.73 L118.78,216.38 L119.03,215.04 L119.27,213.72 L119.51,212.41 L119.76,211.11 L120.00,209.83 L120.25,208.56 L120.49,207.30 L120.74,206.05 L120.99,204.82 L121.24,203.60 L121.49,202.39 L121.74,201.20 L121.99,200.02 L122.24,198.86 L122.50,197.71 L122.75,196.57 L123.01,195.44 L123.26,194.33 L123.52,193.24 L123.78,192.16 L124.04,191.09 L124.30,190.03 L124.56,188.99 L124.82,187.97 L125.08,186.96 L125.34,185.96 L125.60,184.98 L125.87,184.01 L126.13,183.06 L126.40,182.12 L126.67,181.20 L126.93,180.29 L127.20,179.40 L127.47,178.52 L127.74,177.65 L128.01,176.80 L128.28,175.97 L128.55,175.15 L128.83,174.35 L129.10,173.56 L129.37,172.78 L129.65,172.02 L129.93,171.28 L130.20,170.55 L130.48,169.84 L130.76,169.14 L131.04,168.45 L131.32,167.78 L131.60,167.13 L131.88,166.49 L132.16,165.87 L132.44,165.26 L132.73,164.67 L133.01,164.09 L133.30,163.53 L133.58,162.98 L133.87,162.45 L134.16,161.94 L134.45,161.44 L134.74,160.95 L135.03,160.48 L135.32,160.02 L135.61,159.58 L135.90,159.16 L136.19,158.75 L136.49,158.35 L136.78,157.97 L137.08,157.61 L137.37,157.26 L137.67,156.92 L137.97,156.60 L138.26,156.30 L138.56,156.01 L138.86,155.73 L139.16,155.47 L139.46,155.23 L139.77,155.00 L140.07,154.78 L140.37,154.58 L140.68,154.39 L140.98,154.22 L141.29,154.06 L141.59,153.92 L141.90,153.79 L142.21,153.68 L142.52,153.58 L142.83,153.49 L143.14,153.42 L143.45,153.37 L143.76,153.32 L144.07,153.30 L144.38,153.28 L144.70,153.28 L145.01,153.30 L145.33,153.32 L145.64,153.37 L145.96,153.42 L146.27,153.49 L146.59,153.57 L146.91,153.67 L147.23,153.78 L147.55,153.90 L147.87,154.04 L148.19,154.19 L148.51,154.35 L148.84,154.53 L149.16,154.72 L149.48,154.92 L149.81,155.14 L150.13,155.36 L150.46,155.60 L150.79,155.86 L151.12,156.12 L151.44,156.40 L151.77,156.69 L152.10,157.00 L152.43,157.31 L152.76,157.64 L153.10,157.98 L153.43,158.34 L153.76,158.70 L154.10,159.08 L154.43,159.46 L154.77,159.86 L155.10,160.27 L155.44,160.70 L155.78,161.13 L156.11,161.58 L156.45,162.03 L156.79,162.50 L157.13,162.98 L157.47,163.47 L157.81,163.97 L158.16,164.48 L158.50,165.00 L158.84,165.54 L159.19,166.08 L159.53,166.63 L159.88,167.20 L160.22,167.77 L160.57,168.36 L160.92,168.95 L161.27,169.55 L161.62,170.17 L161.96,170.79 L162.31,171.42 L162.67,172.07 L163.02,172.72 L163.37,173.38 L163.72,174.05 L164.08,174.73 L164.43,175.42 L164.79,176.12 L165.14,176.82 L165.50,177.54 L165.85,178.26 L166.21,178.99 L166.57,179.73 L166.93,180.48 L167.29,181.24 L167.65,182.00 L168.01,182.77 L168.37,183.55 L168.73,184.34 L169.09,185.14 L169.46,185.94 L169.82,186.75 L170.19,187.57 L170.55,188.40 L170.92,189.23 L171.29,190.07 L171.65,190.91 L172.02,191.77 L172.39,192.63 L172.76,193.49 L173.13,194.37 L173.50,195.25 L173.87,196.13 L174.24,197.02 L174.61,197.92 L174.99,198.83 L175.36,199.74 L175.74,200.65 L176.11,201.57 L176.49,202.50 L176.86,203.43 L177.24,204.37 L177.62,205.31 L178.00,206.26 L178.37,207.21 L178.75,208.17 L179.13,209.13 L179.51,210.10 L179.90,211.07 L180.28,212.05 L180.66,213.03 L181.04,214.02 L181.43,215.01 L181.81,216.00 L182.20,217.00 L182.58,218.00 L182.97,219.01 L183.36,220.01 L183.74,221.03 L184.13,222.04 L184.52,223.06 L184.91,224.09 L185.30,225.12 L185.69,226.15 L186.08,227.18 L186.48,228.21 L186.87,229.25 L187.26,230.30 L187.65,231.34 L188.05,232.39 L188.44,233.44 L188.84,234.49 L189.24,235.54 L189.63,236.60 L190.03,237.66 L190.43,238.72 L190.83,239.78 L191.23,240.85 L191.63,241.91 L192.03,242.98 L192.43,244.05 L192.83,245.12 L193.23,246.20 L193.64,247.27 L194.04,248.35 L194.44,249.42 L194.85,250.50 L195.25,251.58 L195.66,252.66 L196.07,253.74 L196.47,254.82 L196.88,255.90 L197.29,256.99 L197.70,258.07 L198.11,259.15 L198.52,260.24 L198.93,261.32 L199.34,262.41 L199.76,263.49 L200.17,264.58 L200.58,265.66 L200.99,266.75 L201.41,267.83 L201.82,268.92 L202.24,270.00 L202.66,271.09 L203.07,272.17 L203.49,273.25 L203.91,274.34 L204.33,275.42 L204.75,276.50 L205.17,277.58 L205.59,278.66 L206.01,279.74 L206.43,280.82 L206.85,281.89 L207.28,282.97 L207.70,284.04 L208.12,285.12 L208.55,286.19 L208.97,287.26 L209.40,288.33 L209.82,289.40 L210.25,290.46 L210.68,291.53 L211.11,292.59 L211.54,293.65 L211.96,294.71 L212.39,295.77 L212.83,296.82 L213.26,297.88 L213.69,298.93 L214.12,299.98 L214.55,301.03 L214.99,302.07 L215.42,303.12 L215.85,304.16 L216.29,305.20 L216.73,306.23 L217.16,307.27 L217.60,308.30 L218.04,309.33 L218.47,310.36 L218.91,311.38 L219.35,312.40 L219.79,313.42 L220.23,314.44 L220.67,315.45 L221.11,316.46 L221.56,317.47 L222.00,318.47 L222.44,319.48 L222.88,320.48 L223.33,321.47 L223.77,322.46 L224.22,323.45 L224.66,324.44 L225.11,325.43 L225.56,326.41 L226.01,327.38 L226.45,328.36 L226.90,329.33 L227.35,330.30 L227.80,331.26 L228.25,332.22 L228.70,333.18 L229.16,334.13 L229.61,335.08 L230.06,336.03 L230.51,336.97 L230.97,337.91 L231.42,338.85 L231.88,339.78 L232.33,340.71 L232.79,341.63 L233.25,342.56 L233.70,343.47 L234.16,344.39 L234.62,345.30 L235.08,346.20 L235.54,347.11 L236.00,348.01 L236.46,348.90 L236.92,349.79 L237.38,350.68 L237.84,351.56 L238.31,352.44 L238.77,353.32 L239.23,354.19 L239.70,355.06 L240.16,355.92 L240.63,356.78 L241.09,357.63 L241.56,358.49 L242.03,359.33 L242.50,360.18 L242.96,361.01 L243.43,361.85 L243.90,362.68 L244.37,363.51 L244.84,364.33 L245.31,365.15 L245.79,365.96 L246.26,366.77 L246.73,367.58 L247.20,368.38 L247.68,369.18 L248.15,369.97 L248.63,370.76 L249.10,371.54 L249.58,372.32 L250.06,373.10 L250.53,373.87 L251.01,374.64 L251.49,375.40 L251.97,376.16 L252.45,376.91 L252.93,377.67 L253.41,378.41 L253.89,379.15 L254.37,379.89 L254.85,380.62 L255.33,381.35 L255.82,382.08 L256.30,382.80 L256.78,383.51 L257.27,384.23 L257.75,384.93 L258.24,385.64 L258.73,386.34 L259.21,387.03 L259.70,387.72 L260.19,388.41 L260.68,389.09 L261.17,389.77 L261.66,390.44 L262.15,391.11 L262.64,391.77 L263.13,392.44 L263.62,393.09 L264.11,393.74 L264.60,394.39 L265.10,395.03 L265.59,395.67 L266.08,396.31 L266.58,396.94 L267.07,397.57 L267.57,398.19 L268.07,398.81 L268.56,399.42 L269.06,400.03 L269.56,400.64 L270.06,401.24 L270.56,401.83 L271.06,402.43 L271.56,403.02 L272.06,403.60 L272.56,404.18 L273.06,404.76 L273.56,405.33 L274.07,405.90 L274.57,406.46 L275.07,407.02 L275.58,407.58 L276.08,408.13 L276.59,408.68 L277.09,409.22 L277.60,409.76 L278.11,410.30 L278.61,410.83 L279.12,411.36 L279.63,411.89 L280.14,412.41 L280.65,412.92 L281.16,413.43 L281.67,413.94 L282.18,414.45 L282.69,414.95 L283.20,415.44 L283.72,415.94 L284.23,416.43 L284.74,416.91 L285.26,417.39 L285.77,417.87 L286.29,418.34 L286.80,418.81 L287.32,419.28 L287.84,419.74 L288.35,420.20 L288.87,420.66 L289.39,421.11 L289.91,421.56 L290.43,422.00 L290.95,422.44 L291.47,422.88 L291.99,423.31 L292.51,423.74 L293.03,424.17 L293.55,424.59 L294.08,425.01 L294.60,425.42 L295.13,425.84 L295.65,426.25 L296.17,426.65 L296.70,427.05 L297.23,427.45 L297.75,427.84 L298.28,428.24 L298.81,428.62 L299.34,429.01 L299.86,429.39 L300.39,429.77 L300.92,430.14 L301.45,430.51 L301.98,430.88 L302.51,431.25 L303.05,431.61 L303.58,431.97 L304.11,432.32 L304.64,432.67 L305.18,433.02 L305.71,433.37 L306.25,433.71 L306.78,434.05 L307.32,434.39 L307.85,434.72 L308.39,435.05 L308.93,435.38 L309.46,435.70 L310.00,436.02 L310.54,436.34 L311.08,436.66 L311.62,436.97 L312.16,437.28 L312.70,437.59 L313.24,437.89 L313.78,438.19 L314.33,438.49 L314.87,438.78 L315.41,439.08 L315.95,439.36 L316.50,439.65 L317.04,439.94 L317.59,440.22 L318.13,440.50 L318.68,440.77 L319.23,441.04 L319.77,441.31 L320.32,441.58 L320.87,441.85 L321.42,442.11 L321.97,442.37 L322.52,442.63 L323.07,442.88 L323.62,443.13 L324.17,443.38 L324.72,443.63 L325.27,443.88 L325.83,444.12 L326.38,444.36 L326.93,444.60 L327.49,444.83 L328.04,445.06 L328.60,445.30 L329.15,445.52 L329.71,445.75 L330.26,445.97 L330.82,446.19 L331.38,446.41 L331.94,446.63 L332.49,446.84 L333.05,447.05 L333.61,447.26 L334.17,447.47 L334.73,447.68 L335.29,447.88 L335.86,448.08 L336.42,448.28 L336.98,448.48 L337.54,448.67 L338.11,448.87 L338.67,449.06 L339.23,449.25 L339.80,449.43 L340.36,449.62 L340.93,449.80 L341.50,449.98 L342.06,450.16 L342.63,450.34 L343.20,450.51 L343.77,450.68 L344.33,450.85 L344.90,451.02 L345.47,451.19 L346.04,451.36 L346.61,451.52 L347.19,451.68 L347.76,451.84 L348.33,452.00 L348.90,452.16 L349.47,452.31 L350.05,452.47 L350.62,452.62 L351.20,452.77 L351.77,452.91 L352.35,453.06 L352.92,453.21 L353.50,453.35 L354.08,453.49 L354.65,453.63 L355.23,453.77 L355.81,453.90 L356.39,454.04 L356.97,454.17 L357.55,454.30 L358.13,454.44 L358.71,454.56 L359.29,454.69 L359.87,454.82 L360.45,454.94 L361.04,455.07 L361.62,455.19 L362.20,455.31 L362.79,455.43 L363.37,455.54 L363.96,455.66 L364.54,455.77 L365.13,455.89 L365.71,456.00 L366.30,456.11 L366.89,456.22 L367.48,456.33 L368.06,456.43 L368.65,456.54 L369.24,456.64 L369.83,456.75 L370.42,456.85 L371.01,456.95 L371.60,457.05 L372.19,457.14 L372.79,457.24 L373.38,457.34 L373.97,457.43 L374.57,457.53 L375.16,457.62 L375.75,457.71 L376.35,457.80 L376.94,457.89 L377.54,457.97 L378.14,458.06 L378.73,458.15 L379.33,458.23 L379.93,458.31 L380.53,458.40 L381.12,458.48 L381.72,458.56 L382.32,458.64 L382.92,458.72 L383.52,458.79 L384.12,458.87 L384.73,458.95 L385.33,459.02 L385.93,459.09 L386.53,459.17 L387.14,459.24 L387.74,459.31 L388.34,459.38 L388.95,459.45 L389.55,459.52 L390.16,459.58 L390.77,459.65 L391.37,459.71 L391.98,459.78 L392.59,459.84 L393.20,459.91 L393.80,459.97 L394.41,460.03 L395.02,460.09 L395.63,460.15 L396.24,460.21 L396.85,460.27 L397.46,460.32 L398.08,460.38 L398.69,460.44 L399.30,460.49 L399.91,460.55 L400.53,460.60 L401.14,460.65 L401.75,460.70 L402.37,460.76 L402.98,460.81 L403.60,460.86 L404.22,460.91 L404.83,460.96 L405.45,461.00 L406.07,461.05 L406.69,461.10 L407.30,461.14 L407.92,461.19 L408.54,461.24 L409.16,461.28 L409.78,461.32 L410.40,461.37 L411.02,461.41 L411.65,461.45 L412.27,461.49 L412.89,461.53 L413.51,461.57 L414.14,461.61 L414.76,461.65 L415.39,461.69 L416.01,461.73 L416.64,461.77 L417.26,461.80 L417.89,461.84 L418.52,461.88 L419.14,461.91 L419.77,461.95 L420.40,461.98 L421.03,462.02 L421.66,462.05 L422.29,462.08 L422.91,462.12 L423.55,462.15 L424.18,462.18 L424.81,462.21 L425.44,462.24 L426.07,462.27 L426.70,462.30 L427.34,462.33 L427.97,462.36 L428.60,462.39 L429.24,462.42 L429.87,462.45 L430.51,462.47 L431.14,462.50 L431.78,462.53 L432.42,462.55 L433.05,462.58 L433.69,462.61 L434.33,462.63 L434.97,462.66 L435.61,462.68 L436.25,462.70 L436.89,462.73 L437.53,462.75 L438.17,462.77 L438.81,462.80 L439.45,462.82 L440.09,462.84 L440.73,462.86 L441.38,462.88 L442.02,462.91 L442.66,462.93 L443.31,462.95 L443.95,462.97 L444.60,462.99 L445.24,463.01 L445.89,463.03 L446.54,463.05 L447.18,463.06 L447.83,463.08 L448.48,463.10 L449.13,463.12 L449.77,463.14 L450.42,463.15 L451.07,463.17 L451.72,463.19 L452.37,463.20 L453.02,463.22 L453.68,463.24 L454.33,463.25 L454.98,463.27 L455.63,463.28 L456.29,463.30 L456.94,463.31 L457.59,463.33 L458.25,463.34 L458.90,463.36 L459.56,463.37 L460.21,463.38 L460.87,463.40 L461.53,463.41 L462.18,463.42 L462.84,463.44 L463.50,463.45 L464.16,463.46 L464.82,463.48 L465.47,463.49 L466.13,463.50 L466.79,463.51 L467.45,463.52 L468.12,463.53 L468.78,463.55 L469.44,463.56 L470.10,463.57 L470.76,463.58 L471.43,463.59 L472.09,463.60 L472.75,463.61 L473.42,463.62 L474.08,463.63 L474.75,463.64 L475.42,463.65 L476.08,463.66 L476.75,463.67 L477.42,463.68 L478.08,463.69 L478.75,463.69 L479.42,463.70 L480.09,463.71 L480.76,463.72 L481.43,463.73 L482.10,463.74 L482.77,463.74 L483.44,463.75 L484.11,463.76 L484.78,463.77 L485.45,463.78 L486.13,463.78 L486.80,463.79 L487.47,463.80 L488.15,463.80 L488.82,463.81 L489.50,463.82 L490.17,463.82 L490.85,463.83 L491.52,463.84 L492.20,463.84 L492.88,463.85 L493.56,463.86 L494.23,463.86 L494.91,463.87 L495.59,463.87 L496.27,463.88 L496.95,463.89 L497.63,463.89 L498.31,463.90 L498.99,463.90 L499.67,463.91 L500.35,463.91 L501.04,463.92 L501.72,463.92 L502.40,463.93 L503.08,463.93 L503.77,463.94 L504.45,463.94 L505.14,463.95 L505.82,463.95 L506.51,463.96 L507.19,463.96 L507.88,463.96 L508.57,463.97 L509.26,463.97 L509.94,463.98 L510.63,463.98 L511.32,463.98 L512.01,463.99 L512.70,463.99 L513.39,464.00 L514.08,464.00 L514.77,464.00 L515.46,464.01 L516.15,464.01 L516.84,464.01 L517.54,464.02 L518.23,464.02 L518.92,464.02 L519.62,464.03 L520.31,464.03 L521.00,464.03 L521.70,464.04 L522.40,464.04 L523.09,464.04 L523.79,464.05 L524.48,464.05 L525.18,464.05 L525.88,464.05 L526.58,464.06 L527.27,464.06 L527.97,464.06 L528.67,464.06 L529.37,464.07 L530.07,464.07 L530.77,464.07 L531.47,464.07 L532.17,464.08 L532.88,464.08 L533.58,464.08 L534.28,464.08 L534.98,464.09 L535.69,464.09 L536.39,464.09 L537.10,464.09 L537.80,464.09 L538.51,464.10 L539.21,464.10 L539.92,464.10 L540.62,464.10 L541.33,464.10 L542.04,464.11 L542.74,464.11 L543.45,464.11 L544.16,464.11 L544.87,464.11 L545.58,464.11 L546.29,464.12 L547.00,464.12 L547.71,464.12 L548.42,464.12 L549.13,464.12 L549.84,464.12 L550.56,464.13 L551.27,464.13 L551.98,464.13 L552.69,464.13 L553.41,464.13 L554.12,464.13 L554.84,464.13 L555.55,464.13 L556.27,464.14 L556.98,464.14 L557.70,464.14 L558.42,464.14 L559.13,464.14 L559.85,464.14 L560.57,464.14 L561.29,464.14 L562.01,464.15 L562.73,464.15 L563.45,464.15 L564.17,464.15 L564.89,464.15 L565.61,464.15 L566.33,464.15 L567.05,464.15 L567.77,464.15 L568.49,464.15 L569.22,464.16 L569.94,464.16 L570.66,464.16 L571.39,464.16 L572.11,464.16 L572.84,464.16 L573.56,464.16 L574.29,464.16 L575.02,464.16 L575.74,464.16 L576.47,464.16 L577.20,464.16 L577.92,464.16 L578.65,464.17 L579.38,464.17 L580.11,464.17 L580.84,464.17 L581.57,464.17 L582.30,464.17 L583.03,464.17 L583.76,464.17 L584.49,464.17 L585.23,464.17 L585.96,464.17 L586.69,464.17 L587.42,464.17 L588.16,464.17 L588.89,464.17 L589.63,464.17 L590.36,464.18 L591.10,464.18 L591.83,464.18 L592.57,464.18 L593.30,464.18 L594.04,464.18 L594.78,464.18 L595.52,464.18 L596.25,464.18 L596.99,464.18 L597.73,464.18 L598.47,464.18 L599.21,464.18 L599.95,464.18 L600.69,464.18 L601.43,464.18 L602.17,464.18 L602.92,464.18 L603.66,464.18 L604.40,464.18 L605.14,464.18 L605.89,464.18 L606.63,464.18 L607.37,464.18 L608.12,464.18 L608.86,464.19 L609.61,464.19 L610.35,464.19 L611.10,464.19 L611.85,464.19 L612.59,464.19 L613.34,464.19 L614.09,464.19 L614.84,464.19 L615.59,464.19 L616.34,464.19 L617.08,464.19 L617.83,464.19 L618.58,464.19 L619.34,464.19 L620.09,464.19 L620.84,464.19 L621.59,464.19 L622.34,464.19 L623.09,464.19 L623.85,464.19 L624.60,464.19 L625.35,464.19 L626.11,464.19 L626.86,464.19 L627.62,464.19 L628.37,464.19 L629.13,464.19 L629.89,464.19 L630.64,464.19 L631.40,464.19 L632.16,464.19 L632.92,464.19 L633.67,464.19 L634.43,464.19 L635.19,464.19 L635.95,464.19 L636.71,464.19 L637.47,464.19 L638.23,464.19 L638.99,464.19 L639.75,464.19 L640.52,464.19 L641.28,464.19 L642.04,464.19 L642.80,464.19 L643.57,464.19 L644.33,464.19 L645.09,464.19 L645.86,464.19 L646.62,464.19 L647.39,464.20 L648.16,464.20 L648.92,464.20 L649.69,464.20 L650.45,464.20 L651.22,464.20 L651.99,464.20 L652.76,464.20 L653.53,464.20 L654.30,464.20 L655.06,464.20 L655.83,464.20 L656.60,464.20 L657.38,464.20 L658.15,464.20 L658.92,464.20 L659.69,464.20 L660.46,464.20 L661.23,464.20 L662.01,464.20 L662.78,464.20 L663.55,464.20 L664.33,464.20 L665.10,464.20 L665.88,464.20 L666.65,464.20 L667.43,464.20 L668.20,464.20 L668.98,464.20 L669.76,464.20 L670.53,464.20 L671.31,464.20 L672.09,464.20 L672.87,464.20 L673.65,464.20 L674.43,464.20 L675.21,464.20 L675.99,464.20 L676.77,464.20 L677.55,464.20 L678.33,464.20 L679.11,464.20" fill="none" stroke="#000" stroke-width="3.65" stroke-linejoin="round" stroke-dasharray="1 7.106" stroke-dashoffset="1.143"/>
<path d="M93.30,464.20 L93.31,464.14 L93.32,464.02 L93.34,463.84 L93.36,463.61 L93.39,463.35 L93.42,463.04 L93.46,462.71 L93.49,462.33 L93.53,461.93 L93.58,461.49 L93.62,461.03 L93.67,460.53 L93.72,460.01 L93.77,459.46 L93.83,458.88 L93.89,458.28 L93.95,457.65 L94.01,457.00 L94.07,456.32 L94.14,455.62 L94.21,454.90 L94.28,454.16 L94.35,453.39 L94.42,452.61 L94.50,451.80 L94.58,450.97 L94.65,450.13 L94.74,449.26 L94.82,448.37 L94.90,447.47 L94.99,446.54 L95.08,445.60 L95.17,444.64 L95.26,443.67 L95.35,442.67 L95.45,441.66 L95.54,440.63 L95.64,439.59 L95.74,438.53 L95.84,437.46 L95.94,436.37 L96.05,435.26 L96.15,434.15 L96.26,433.01 L96.37,431.87 L96.48,430.71 L96.59,429.53 L96.70,428.34 L96.82,427.14 L96.93,425.93 L97.05,424.71 L97.17,423.47 L97.29,422.22 L97.41,420.96 L97.53,419.69 L97.65,418.41 L97.78,417.12 L97.90,415.81 L98.03,414.50 L98.16,413.18 L98.29,411.84 L98.42,410.50 L98.56,409.15 L98.69,407.79 L98.82,406.42 L98.96,405.04 L99.10,403.65 L99.24,402.26 L99.38,400.86 L99.52,399.45 L99.66,398.03 L99.81,396.61 L99.95,395.18 L100.10,393.74 L100.25,392.30 L100.39,390.85 L100.54,389.39 L100.70,387.93 L100.85,386.47 L101.00,385.00 L101.16,383.52 L101.31,382.04 L101.47,380.55 L101.63,379.06 L101.79,377.57 L101.95,376.07 L102.11,374.57 L102.27,373.06 L102.43,371.55 L102.60,370.04 L102.76,368.53 L102.93,367.01 L103.10,365.49 L103.27,363.97 L103.44,362.45 L103.61,360.92 L103.78,359.39 L103.96,357.86 L104.13,356.33 L104.31,354.80 L104.48,353.27 L104.66,351.74 L104.84,350.21 L105.02,348.67 L105.20,347.14 L105.38,345.61 L105.56,344.07 L105.75,342.54 L105.93,341.01 L106.12,339.48 L106.31,337.95 L106.49,336.42 L106.68,334.89 L106.87,333.37 L107.06,331.84 L107.26,330.32 L107.45,328.80 L107.64,327.28 L107.84,325.77 L108.03,324.26 L108.23,322.75 L108.43,321.24 L108.63,319.73 L108.83,318.23 L109.03,316.74 L109.23,315.24 L109.43,313.75 L109.64,312.27 L109.84,310.78 L110.05,309.31 L110.25,307.83 L110.46,306.36 L110.67,304.90 L110.88,303.44 L111.09,301.99 L111.30,300.54 L111.51,299.09 L111.73,297.65 L111.94,296.22 L112.16,294.79 L112.37,293.37 L112.59,291.95 L112.81,290.54 L113.03,289.14 L113.25,287.74 L113.47,286.35 L113.69,284.97 L113.91,283.59 L114.13,282.22 L114.36,280.85 L114.58,279.49 L114.81,278.14 L115.03,276.80 L115.26,275.47 L115.49,274.14 L115.72,272.82 L115.95,271.51 L116.18,270.20 L116.41,268.91 L116.65,267.62 L116.88,266.34 L117.12,265.06 L117.35,263.80 L117.59,262.55 L117.83,261.30 L118.06,260.06 L118.30,258.83 L118.54,257.61 L118.78,256.40 L119.03,255.20 L119.27,254.01 L119.51,252.82 L119.76,251.65 L120.00,250.48 L120.25,249.33 L120.49,248.18 L120.74,247.05 L120.99,245.92 L121.24,244.80 L121.49,243.69 L121.74,242.60 L121.99,241.51 L122.24,240.43 L122.50,239.37 L122.75,238.31 L123.01,237.26 L123.26,236.23 L123.52,235.20 L123.78,234.19 L124.04,233.18 L124.30,232.19 L124.56,231.21 L124.82,230.23 L125.08,229.27 L125.34,228.32 L125.60,227.38 L125.87,226.45 L126.13,225.54 L126.40,224.63 L126.67,223.73 L126.93,222.85 L127.20,221.97 L127.47,221.11 L127.74,220.26 L128.01,219.42 L128.28,218.59 L128.55,217.77 L128.83,216.97 L129.10,216.17 L129.37,215.39 L129.65,214.62 L129.93,213.86 L130.20,213.11 L130.48,212.37 L130.76,211.65 L131.04,210.93 L131.32,210.23 L131.60,209.54 L131.88,208.86 L132.16,208.19 L132.44,207.53 L132.73,206.89 L133.01,206.26 L133.30,205.64 L133.58,205.03 L133.87,204.43 L134.16,203.84 L134.45,203.27 L134.74,202.71 L135.03,202.16 L135.32,201.62 L135.61,201.09 L135.90,200.58 L136.19,200.07 L136.49,199.58 L136.78,199.10 L137.08,198.63 L137.37,198.17 L137.67,197.73 L137.97,197.30 L138.26,196.87 L138.56,196.46 L138.86,196.07 L139.16,195.68 L139.46,195.30 L139.77,194.94 L140.07,194.59 L140.37,194.25 L140.68,193.92 L140.98,193.60 L141.29,193.30 L141.59,193.00 L141.90,192.72 L142.21,192.45 L142.52,192.19 L142.83,191.94 L143.14,191.71 L143.45,191.48 L143.76,191.27 L144.07,191.06 L144.38,190.87 L144.70,190.69 L145.01,190.52 L145.33,190.37 L145.64,190.22 L145.96,190.08 L146.27,189.96 L146.59,189.85 L146.91,189.74 L147.23,189.65 L147.55,189.57 L147.87,189.50 L148.19,189.44 L148.51,189.39 L148.84,189.36 L149.16,189.33 L149.48,189.31 L149.81,189.31 L150.13,189.31 L150.46,189.33 L150.79,189.36 L151.12,189.39 L151.44,189.44 L151.77,189.50 L152.10,189.56 L152.43,189.64 L152.76,189.73 L153.10,189.83 L153.43,189.94 L153.76,190.05 L154.10,190.18 L154.43,190.32 L154.77,190.47 L155.10,190.62 L155.44,190.79 L155.78,190.97 L156.11,191.16 L156.45,191.35 L156.79,191.56 L157.13,191.77 L157.47,192.00 L157.81,192.23 L158.16,192.47 L158.50,192.73 L158.84,192.99 L159.19,193.26 L159.53,193.54 L159.88,193.83 L160.22,194.12 L160.57,194.43 L160.92,194.74 L161.27,195.07 L161.62,195.40 L161.96,195.74 L162.31,196.09 L162.67,196.45 L163.02,196.82 L163.37,197.19 L163.72,197.57 L164.08,197.96 L164.43,198.36 L164.79,198.77 L165.14,199.18 L165.50,199.61 L165.85,200.04 L166.21,200.48 L166.57,200.92 L166.93,201.38 L167.29,201.84 L167.65,202.31 L168.01,202.78 L168.37,203.26 L168.73,203.76 L169.09,204.25 L169.46,204.76 L169.82,205.27 L170.19,205.79 L170.55,206.32 L170.92,206.85 L171.29,207.39 L171.65,207.93 L172.02,208.49 L172.39,209.05 L172.76,209.61 L173.13,210.18 L173.50,210.76 L173.87,211.35 L174.24,211.94 L174.61,212.54 L174.99,213.14 L175.36,213.75 L175.74,214.36 L176.11,214.99 L176.49,215.61 L176.86,216.24 L177.24,216.88 L177.62,217.53 L178.00,218.17 L178.37,218.83 L178.75,219.49 L179.13,220.15 L179.51,220.82 L179.90,221.50 L180.28,222.18 L180.66,222.86 L181.04,223.55 L181.43,224.25 L181.81,224.95 L182.20,225.65 L182.58,226.36 L182.97,227.08 L183.36,227.79 L183.74,228.52 L184.13,229.24 L184.52,229.97 L184.91,230.71 L185.30,231.45 L185.69,232.19 L186.08,232.94 L186.48,233.69 L186.87,234.44 L187.26,235.20 L187.65,235.96 L188.05,236.73 L188.44,237.50 L188.84,238.27 L189.24,239.05 L189.63,239.83 L190.03,240.61 L190.43,241.40 L190.83,242.19 L191.23,242.98 L191.63,243.77 L192.03,244.57 L192.43,245.37 L192.83,246.18 L193.23,246.98 L193.64,247.79 L194.04,248.61 L194.44,249.42 L194.85,250.24 L195.25,251.06 L195.66,251.88 L196.07,252.70 L196.47,253.53 L196.88,254.36 L197.29,255.19 L197.70,256.02 L198.11,256.85 L198.52,257.69 L198.93,258.53 L199.34,259.37 L199.76,260.21 L200.17,261.05 L200.58,261.90 L200.99,262.75 L201.41,263.59 L201.82,264.44 L202.24,265.29 L202.66,266.15 L203.07,267.00 L203.49,267.85 L203.91,268.71 L204.33,269.57 L204.75,270.42 L205.17,271.28 L205.59,272.14 L206.01,273.00 L206.43,273.86 L206.85,274.72 L207.28,275.59 L207.70,276.45 L208.12,277.31 L208.55,278.18 L208.97,279.04 L209.40,279.91 L209.82,280.77 L210.25,281.64 L210.68,282.51 L211.11,283.37 L211.54,284.24 L211.96,285.10 L212.39,285.97 L212.83,286.84 L213.26,287.70 L213.69,288.57 L214.12,289.44 L214.55,290.30 L214.99,291.17 L215.42,292.03 L215.85,292.90 L216.29,293.77 L216.73,294.63 L217.16,295.49 L217.60,296.36 L218.04,297.22 L218.47,298.08 L218.91,298.94 L219.35,299.81 L219.79,300.67 L220.23,301.52 L220.67,302.38 L221.11,303.24 L221.56,304.10 L222.00,304.95 L222.44,305.81 L222.88,306.66 L223.33,307.52 L223.77,308.37 L224.22,309.22 L224.66,310.07 L225.11,310.92 L225.56,311.76 L226.01,312.61 L226.45,313.45 L226.90,314.30 L227.35,315.14 L227.80,315.98 L228.25,316.82 L228.70,317.66 L229.16,318.49 L229.61,319.33 L230.06,320.16 L230.51,320.99 L230.97,321.82 L231.42,322.65 L231.88,323.47 L232.33,324.30 L232.79,325.12 L233.25,325.94 L233.70,326.76 L234.16,327.57 L234.62,328.39 L235.08,329.20 L235.54,330.01 L236.00,330.82 L236.46,331.63 L236.92,332.43 L237.38,333.24 L237.84,334.04 L238.31,334.84 L238.77,335.63 L239.23,336.43 L239.70,337.22 L240.16,338.01 L240.63,338.80 L241.09,339.58 L241.56,340.37 L242.03,341.15 L242.50,341.93 L242.96,342.70 L243.43,343.48 L243.90,344.25 L244.37,345.02 L244.84,345.78 L245.31,346.55 L245.79,347.31 L246.26,348.07 L246.73,348.82 L247.20,349.58 L247.68,350.33 L248.15,351.08 L248.63,351.82 L249.10,352.57 L249.58,353.31 L250.06,354.05 L250.53,354.78 L251.01,355.51 L251.49,356.25 L251.97,356.97 L252.45,357.70 L252.93,358.42 L253.41,359.14 L253.89,359.86 L254.37,360.57 L254.85,361.28 L255.33,361.99 L255.82,362.69 L256.30,363.40 L256.78,364.10 L257.27,364.79 L257.75,365.49 L258.24,366.18 L258.73,366.87 L259.21,367.55 L259.70,368.24 L260.19,368.92 L260.68,369.59 L261.17,370.27 L261.66,370.94 L262.15,371.60 L262.64,372.27 L263.13,372.93 L263.62,373.59 L264.11,374.25 L264.60,374.90 L265.10,375.55 L265.59,376.20 L266.08,376.84 L266.58,377.48 L267.07,378.12 L267.57,378.76 L268.07,379.39 L268.56,380.02 L269.06,380.64 L269.56,381.27 L270.06,381.89 L270.56,382.50 L271.06,383.12 L271.56,383.73 L272.06,384.34 L272.56,384.94 L273.06,385.54 L273.56,386.14 L274.07,386.74 L274.57,387.33 L275.07,387.92 L275.58,388.50 L276.08,389.09 L276.59,389.67 L277.09,390.24 L277.60,390.82 L278.11,391.39 L278.61,391.96 L279.12,392.52 L279.63,393.09 L280.14,393.64 L280.65,394.20 L281.16,394.75 L281.67,395.30 L282.18,395.85 L282.69,396.39 L283.20,396.93 L283.72,397.47 L284.23,398.01 L284.74,398.54 L285.26,399.06 L285.77,399.59 L286.29,400.11 L286.80,400.63 L287.32,401.15 L287.84,401.66 L288.35,402.17 L288.87,402.68 L289.39,403.18 L289.91,403.68 L290.43,404.18 L290.95,404.68 L291.47,405.17 L291.99,405.66 L292.51,406.15 L293.03,406.63 L293.55,407.11 L294.08,407.59 L294.60,408.06 L295.13,408.53 L295.65,409.00 L296.17,409.47 L296.70,409.93 L297.23,410.39 L297.75,410.85 L298.28,411.30 L298.81,411.75 L299.34,412.20 L299.86,412.65 L300.39,413.09 L300.92,413.53 L301.45,413.96 L301.98,414.40 L302.51,414.83 L303.05,415.26 L303.58,415.68 L304.11,416.10 L304.64,416.52 L305.18,416.94 L305.71,417.36 L306.25,417.77 L306.78,418.17 L307.32,418.58 L307.85,418.98 L308.39,419.38 L308.93,419.78 L309.46,420.18 L310.00,420.57 L310.54,420.96 L311.08,421.34 L311.62,421.73 L312.16,422.11 L312.70,422.49 L313.24,422.86 L313.78,423.24 L314.33,423.61 L314.87,423.98 L315.41,424.34 L315.95,424.70 L316.50,425.06 L317.04,425.42 L317.59,425.78 L318.13,426.13 L318.68,426.48 L319.23,426.83 L319.77,427.17 L320.32,427.51 L320.87,427.85 L321.42,428.19 L321.97,428.52 L322.52,428.86 L323.07,429.19 L323.62,429.51 L324.17,429.84 L324.72,430.16 L325.27,430.48 L325.83,430.80 L326.38,431.11 L326.93,431.42 L327.49,431.74 L328.04,432.04 L328.60,432.35 L329.15,432.65 L329.71,432.95 L330.26,433.25 L330.82,433.55 L331.38,433.84 L331.94,434.13 L332.49,434.42 L333.05,434.71 L333.61,434.99 L334.17,435.28 L334.73,435.56 L335.29,435.83 L335.86,436.11 L336.42,436.38 L336.98,436.66 L337.54,436.92 L338.11,437.19 L338.67,437.46 L339.23,437.72 L339.80,437.98 L340.36,438.24 L340.93,438.50 L341.50,438.75 L342.06,439.00 L342.63,439.25 L343.20,439.50 L343.77,439.75 L344.33,439.99 L344.90,440.23 L345.47,440.47 L346.04,440.71 L346.61,440.95 L347.19,441.18 L347.76,441.41 L348.33,441.64 L348.90,441.87 L349.47,442.10 L350.05,442.32 L350.62,442.54 L351.20,442.76 L351.77,442.98 L352.35,443.20 L352.92,443.41 L353.50,443.63 L354.08,443.84 L354.65,444.05 L355.23,444.25 L355.81,444.46 L356.39,444.66 L356.97,444.87 L357.55,445.07 L358.13,445.27 L358.71,445.46 L359.29,445.66 L359.87,445.85 L360.45,446.04 L361.04,446.23 L361.62,446.42 L362.20,446.61 L362.79,446.79 L363.37,446.98 L363.96,447.16 L364.54,447.34 L365.13,447.52 L365.71,447.69 L366.30,447.87 L366.89,448.04 L367.48,448.21 L368.06,448.38 L368.65,448.55 L369.24,448.72 L369.83,448.88 L370.42,449.05 L371.01,449.21 L371.60,449.37 L372.19,449.53 L372.79,449.69 L373.38,449.85 L373.97,450.00 L374.57,450.16 L375.16,450.31 L375.75,450.46 L376.35,450.61 L376.94,450.76 L377.54,450.90 L378.14,451.05 L378.73,451.19 L379.33,451.34 L379.93,451.48 L380.53,451.62 L381.12,451.76 L381.72,451.89 L382.32,452.03 L382.92,452.16 L383.52,452.30 L384.12,452.43 L384.73,452.56 L385.33,452.69 L385.93,452.82 L386.53,452.94 L387.14,453.07 L387.74,453.20 L388.34,453.32 L388.95,453.44 L389.55,453.56 L390.16,453.68 L390.77,453.80 L391.37,453.92 L391.98,454.03 L392.59,454.15 L393.20,454.26 L393.80,454.38 L394.41,454.49 L395.02,454.60 L395.63,454.71 L396.24,454.82 L396.85,454.92 L397.46,455.03 L398.08,455.13 L398.69,455.24 L399.30,455.34 L399.91,455.44 L400.53,455.54 L401.14,455.64 L401.75,455.74 L402.37,455.84 L402.98,455.94 L403.60,456.03 L404.22,456.13 L404.83,456.22 L405.45,456.31 L406.07,456.41 L406.69,456.50 L407.30,456.59 L407.92,456.68 L408.54,456.76 L409.16,456.85 L409.78,456.94 L410.40,457.02 L411.02,457.11 L411.65,457.19 L412.27,457.28 L412.89,457.36 L413.51,457.44 L414.14,457.52 L414.76,457.60 L415.39,457.68 L416.01,457.75 L416.64,457.83 L417.26,457.91 L417.89,457.98 L418.52,458.06 L419.14,458.13 L419.77,458.20 L420.40,458.28 L421.03,458.35 L421.66,458.42 L422.29,458.49 L422.91,458.56 L423.55,458.62 L424.18,458.69 L424.81,458.76 L425.44,458.82 L426.07,458.89 L426.70,458.95 L427.34,459.02 L427.97,459.08 L428.60,459.14 L429.24,459.21 L429.87,459.27 L430.51,459.33 L431.14,459.39 L431.78,459.45 L432.42,459.51 L433.05,459.56 L433.69,459.62 L434.33,459.68 L434.97,459.73 L435.61,459.79 L436.25,459.84 L436.89,459.90 L437.53,459.95 L438.17,460.00 L438.81,460.06 L439.45,460.11 L440.09,460.16 L440.73,460.21 L441.38,460.26 L442.02,460.31 L442.66,460.36 L443.31,460.41 L443.95,460.45 L444.60,460.50 L445.24,460.55 L445.89,460.59 L446.54,460.64 L447.18,460.68 L447.83,460.73 L448.48,460.77 L449.13,460.82 L449.77,460.86 L450.42,460.90 L451.07,460.94 L451.72,460.99 L452.37,461.03 L453.02,461.07 L453.68,461.11 L454.33,461.15 L454.98,461.19 L455.63,461.22 L456.29,461.26 L456.94,461.30 L457.59,461.34 L458.25,461.38 L458.90,461.41 L459.56,461.45 L460.21,461.48 L460.87,461.52 L461.53,461.55 L462.18,461.59 L462.84,461.62 L463.50,461.66 L464.16,461.69 L464.82,461.72 L465.47,461.75 L466.13,461.79 L466.79,461.82 L467.45,461.85 L468.12,461.88 L468.78,461.91 L469.44,461.94 L470.10,461.97 L470.76,462.00 L471.43,462.03 L472.09,462.06 L472.75,462.09 L473.42,462.11 L474.08,462.14 L474.75,462.17 L475.42,462.20 L476.08,462.22 L476.75,462.25 L477.42,462.27 L478.08,462.30 L478.75,462.33 L479.42,462.35 L480.09,462.38 L480.76,462.40 L481.43,462.42 L482.10,462.45 L482.77,462.47 L483.44,462.50 L484.11,462.52 L484.78,462.54 L485.45,462.56 L486.13,462.59 L486.80,462.61 L487.47,462.63 L488.15,462.65 L488.82,462.67 L489.50,462.69 L490.17,462.71 L490.85,462.73 L491.52,462.75 L492.20,462.77 L492.88,462.79 L493.56,462.81 L494.23,462.83 L494.91,462.85 L495.59,462.87 L496.27,462.89 L496.95,462.90 L497.63,462.92 L498.31,462.94 L498.99,462.96 L499.67,462.97 L500.35,462.99 L501.04,463.01 L501.72,463.02 L502.40,463.04 L503.08,463.06 L503.77,463.07 L504.45,463.09 L505.14,463.10 L505.82,463.12 L506.51,463.13 L507.19,463.15 L507.88,463.16 L508.57,463.18 L509.26,463.19 L509.94,463.21 L510.63,463.22 L511.32,463.23 L512.01,463.25 L512.70,463.26 L513.39,463.27 L514.08,463.29 L514.77,463.30 L515.46,463.31 L516.15,463.33 L516.84,463.34 L517.54,463.35 L518.23,463.36 L518.92,463.37 L519.62,463.39 L520.31,463.40 L521.00,463.41 L521.70,463.42 L522.40,463.43 L523.09,463.44 L523.79,463.45 L524.48,463.46 L525.18,463.47 L525.88,463.49 L526.58,463.50 L527.27,463.51 L527.97,463.52 L528.67,463.53 L529.37,463.54 L530.07,463.54 L530.77,463.55 L531.47,463.56 L532.17,463.57 L532.88,463.58 L533.58,463.59 L534.28,463.60 L534.98,463.61 L535.69,463.62 L536.39,463.63 L537.10,463.63 L537.80,463.64 L538.51,463.65 L539.21,463.66 L539.92,463.67 L540.62,463.67 L541.33,463.68 L542.04,463.69 L542.74,463.70 L543.45,463.70 L544.16,463.71 L544.87,463.72 L545.58,463.73 L546.29,463.73 L547.00,463.74 L547.71,463.75 L548.42,463.75 L549.13,463.76 L549.84,463.77 L550.56,463.77 L551.27,463.78 L551.98,463.79 L552.69,463.79 L553.41,463.80 L554.12,463.80 L554.84,463.81 L555.55,463.82 L556.27,463.82 L556.98,463.83 L557.70,463.83 L558.42,463.84 L559.13,463.84 L559.85,463.85 L560.57,463.85 L561.29,463.86 L562.01,463.86 L562.73,463.87 L563.45,463.87 L564.17,463.88 L564.89,463.88 L565.61,463.89 L566.33,463.89 L567.05,463.90 L567.77,463.90 L568.49,463.91 L569.22,463.91 L569.94,463.92 L570.66,463.92 L571.39,463.93 L572.11,463.93 L572.84,463.93 L573.56,463.94 L574.29,463.94 L575.02,463.95 L575.74,463.95 L576.47,463.95 L577.20,463.96 L577.92,463.96 L578.65,463.96 L579.38,463.97 L580.11,463.97 L580.84,463.98 L581.57,463.98 L582.30,463.98 L583.03,463.99 L583.76,463.99 L584.49,463.99 L585.23,464.00 L585.96,464.00 L586.69,464.00 L587.42,464.00 L588.16,464.01 L588.89,464.01 L589.63,464.01 L590.36,464.02 L591.10,464.02 L591.83,464.02 L592.57,464.03 L593.30,464.03 L594.04,464.03 L594.78,464.03 L595.52,464.04 L596.25,464.04 L596.99,464.04 L597.73,464.04 L598.47,464.05 L599.21,464.05 L599.95,464.05 L600.69,464.05 L601.43,464.06 L602.17,464.06 L602.92,464.06 L603.66,464.06 L604.40,464.06 L605.14,464.07 L605.89,464.07 L606.63,464.07 L607.37,464.07 L608.12,464.07 L608.86,464.08 L609.61,464.08 L610.35,464.08 L611.10,464.08 L611.85,464.08 L612.59,464.09 L613.34,464.09 L614.09,464.09 L614.84,464.09 L615.59,464.09 L616.34,464.10 L617.08,464.10 L617.83,464.10 L618.58,464.10 L619.34,464.10 L620.09,464.10 L620.84,464.10 L621.59,464.11 L622.34,464.11 L623.09,464.11 L623.85,464.11 L624.60,464.11 L625.35,464.11 L626.11,464.12 L626.86,464.12 L627.62,464.12 L628.37,464.12 L629.13,464.12 L629.89,464.12 L630.64,464.12 L631.40,464.12 L632.16,464.13 L632.92,464.13 L633.67,464.13 L634.43,464.13 L635.19,464.13 L635.95,464.13 L636.71,464.13 L637.47,464.13 L638.23,464.13 L638.99,464.14 L639.75,464.14 L640.52,464.14 L641.28,464.14 L642.04,464.14 L642.80,464.14 L643.57,464.14 L644.33,464.14 L645.09,464.14 L645.86,464.14 L646.62,464.15 L647.39,464.15 L648.16,464.15 L648.92,464.15 L649.69,464.15 L650.45,464.15 L651.22,464.15 L651.99,464.15 L652.76,464.15 L653.53,464.15 L654.30,464.15 L655.06,464.15 L655.83,464.16 L656.60,464.16 L657.38,464.16 L658.15,464.16 L658.92,464.16 L659.69,464.16 L660.46,464.16 L661.23,464.16 L662.01,464.16 L662.78,464.16 L663.55,464.16 L664.33,464.16 L665.10,464.16 L665.88,464.16 L666.65,464.17 L667.43,464.17 L668.20,464.17 L668.98,464.17 L669.76,464.17 L670.53,464.17 L671.31,464.17 L672.09,464.17 L672.87,464.17 L673.65,464.17 L674.43,464.17 L675.21,464.17 L675.99,464.17 L676.77,464.17 L677.55,464.17 L678.33,464.17 L679.11,464.17" fill="none" stroke="#000" stroke-width="3.65" stroke-linejoin="round" stroke-dasharray="1 7.199 10.749 7.099" stroke-dashoffset="0.601"/>
<circle cx="128.4" cy="176.1" r="1.6"/><circle cx="120.5" cy="207.2" r="1.6"/><circle cx="109.6" cy="279.3" r="1.6"/>
</g>
<g stroke="#222" stroke-width="1" fill="none">
<line x1="190.94" y1="464.8" x2="190.94" y2="458.8"/>
<line x1="190.94" y1="9.95" x2="190.94" y2="15.95"/>
<line x1="288.57" y1="464.8" x2="288.57" y2="458.8"/>
<line x1="288.57" y1="9.95" x2="288.57" y2="15.95"/>
<line x1="386.21" y1="464.8" x2="386.21" y2="458.8"/>
<line x1="386.21" y1="9.95" x2="386.21" y2="15.95"/>
<line x1="483.84" y1="464.8" x2="483.84" y2="458.8"/>
<line x1="483.84" y1="9.95" x2="483.84" y2="15.95"/>
<line x1="581.48" y1="464.8" x2="581.48" y2="458.8"/>
<line x1="581.48" y1="9.95" x2="581.48" y2="15.95"/>
<line x1="93.3" y1="399.82" x2="99.3" y2="399.82"/>
<line x1="679.2" y1="399.82" x2="673.2" y2="399.82"/>
<line x1="93.3" y1="334.84" x2="99.3" y2="334.84"/>
<line x1="679.2" y1="334.84" x2="673.2" y2="334.84"/>
<line x1="93.3" y1="269.86" x2="99.3" y2="269.86"/>
<line x1="679.2" y1="269.86" x2="673.2" y2="269.86"/>
<line x1="93.3" y1="204.88" x2="99.3" y2="204.88"/>
<line x1="679.2" y1="204.88" x2="673.2" y2="204.88"/>
<line x1="93.3" y1="139.90" x2="99.3" y2="139.90"/>
<line x1="679.2" y1="139.90" x2="673.2" y2="139.90"/>
<line x1="93.3" y1="74.92" x2="99.3" y2="74.92"/>
<line x1="679.2" y1="74.92" x2="673.2" y2="74.92"/>
</g>
<rect x="93.3" y="9.95" width="585.90" height="454.85" fill="none" stroke="#000" stroke-width="1.3" stroke-linejoin="round"/>
<g class="tk">
<text x="84.7" y="472.70" text-anchor="end">0</text>
<text x="84.7" y="407.72" text-anchor="end">0.2</text>
<text x="84.7" y="342.74" text-anchor="end">0.4</text>
<text x="84.7" y="277.76" text-anchor="end">0.6</text>
<text x="84.7" y="212.78" text-anchor="end">0.8</text>
<text x="84.7" y="147.80" text-anchor="end">1</text>
<text x="84.7" y="82.82" text-anchor="end">1.2</text>
<text x="84.7" y="17.84" text-anchor="end">1.4</text>
<text x="93.30" y="489.6" text-anchor="middle">0</text>
<text x="190.94" y="489.6" text-anchor="middle">0.5</text>
<text x="288.57" y="489.6" text-anchor="middle">1</text>
<text x="386.21" y="489.6" text-anchor="middle">1.5</text>
<text x="483.84" y="489.6" text-anchor="middle">2</text>
<text x="581.48" y="489.6" text-anchor="middle">2.5</text>
<text x="679.11" y="489.6" text-anchor="middle">3</text>
</g>
<g fill="#000">
<path d="M326.2,49.8 C328.3,48.2 332.6,49 335.4,54.6 L336,57.2 L333,57.2 C332.7,53.6 330,50.7 326.6,50.2 Z"/>
<rect x="333" y="56" width="3.1" height="11.5"/>
<path d="M330.7,68.7 L338.5,68.7 L338.5,68.1 Q336.1,67.7 336.1,66.6 L333,66.6 Q333,67.7 330.7,68.1 Z"/>
<path d="M335.5,57 C336,52.2 338,49.4 340.8,49.2 C342.6,49.1 343.7,50.3 343.6,51.6" fill="none" stroke="#000" stroke-width="1.15"/>
<circle cx="342.1" cy="52.4" r="1.75"/>
</g>
<text x="350.8" y="68.5" style="font-size:28.8px"><tspan class="n">(</tspan>1S<tspan class="n">)</tspan></text>
<line x1="377.1" y1="145.5" x2="458.7" y2="145.5" stroke="#000" stroke-width="3.65" />
<text x="466.3" y="148.0" class="lg">T<tspan font-size="16.3" dy="11.6">C</tspan></text>
<line x1="377.1" y1="183.9" x2="458.7" y2="183.9" stroke="#000" stroke-width="3.65" stroke-dasharray="10.6 11.2"/>
<text x="466.3" y="186.8" class="lg">1.5 T<tspan font-size="16.3" dy="10.8">C</tspan></text>
<line x1="377.1" y1="223.0" x2="458.7" y2="223.0" stroke="#000" stroke-width="3.65" stroke-dasharray="1 7.1"/>
<text x="466.3" y="225.9" class="lg">2.0 T<tspan font-size="16.3" dy="10.5">C</tspan></text>
<line x1="377.1" y1="261.3" x2="458.7" y2="261.3" stroke="#000" stroke-width="3.65" stroke-dasharray="1 7.3 10.8 7.1"/>
<text x="466.3" y="264.4" class="lg">2.5 T<tspan font-size="16.3" dy="11.0">C</tspan></text>
<text x="354.6" y="520.4" style="font-size:27px">r <tspan class="n">(</tspan>fm<tspan class="n">)</tspan></text>
<g transform="translate(32,313.7) rotate(-90)">
<text x="0" y="0" style="font-size:27.5px">g</text>
<text x="12.4" y="13" style="font-size:20px">nl</text>
<text x="29.9" y="0" style="font-size:27.5px"><tspan class="n">(</tspan>r<tspan class="n">)</tspan> [fm</text>
<rect x="109.1" y="-21.2" width="10.9" height="1.7" fill="#000"/>
<text x="119.7" y="-14.9" style="font-size:20px">0.5</text>
<text x="146.3" y="0" style="font-size:27.5px">]</text>
</g>
</svg>
</body></html>
